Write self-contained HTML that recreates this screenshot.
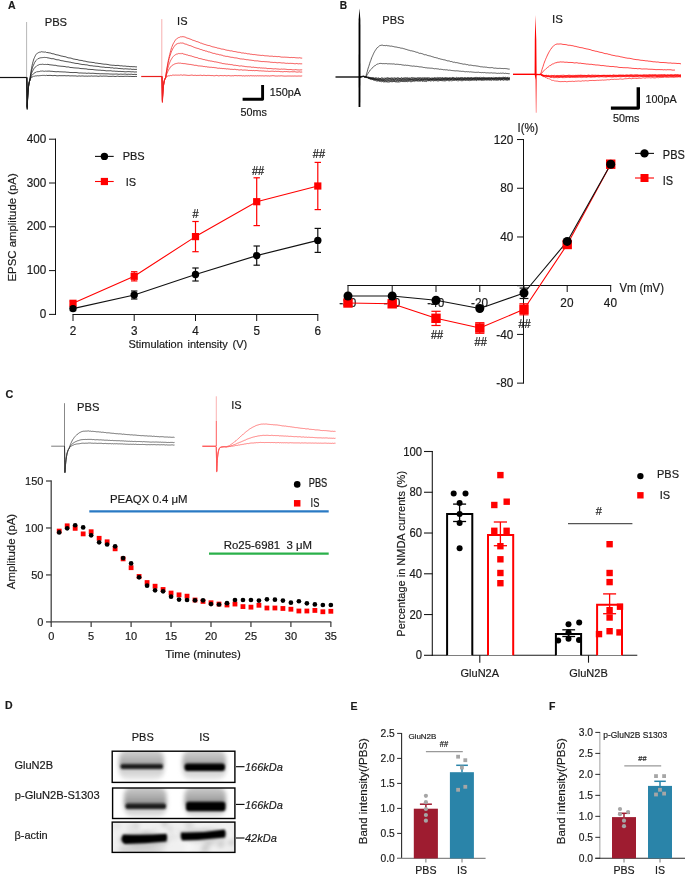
<!DOCTYPE html>
<html><head><meta charset="utf-8"><title>Figure</title>
<style>html,body{margin:0;padding:0;background:#fff;} svg{display:block;will-change:transform;} text{stroke:currentColor;stroke-width:0.18px;}</style></head>
<body><svg width="685" height="875" viewBox="0 0 685 875">
<rect width="685" height="875" fill="#fff"/>
<text x="8.10" y="9.00" font-size="10.5" text-anchor="start" font-weight="bold" fill="#1a1a1a" color="#1a1a1a" font-family='"Liberation Sans", sans-serif' >A</text>
<text x="44.70" y="26.40" font-size="11.2" text-anchor="start" font-weight="normal" fill="#1a1a1a" color="#1a1a1a" font-family='"Liberation Sans", sans-serif' >PBS</text>
<polyline points="0.0,77.5 26.8,77.5" stroke="#111" stroke-width="1.2" fill="none" stroke-linejoin="round" />
<line x1="26.60" y1="22.00" x2="26.60" y2="77.00" stroke="#999" stroke-width="0.7"/>
<polyline points="26.8,77.4 27.0,93.6 27.2,109.6 27.4,104.1 27.6,99.7 27.8,96.0 28.0,93.0 28.2,90.5 28.4,88.1 28.6,86.3 28.8,85.1 29.0,83.7 29.2,82.8 29.4,81.6 29.6,81.1 29.8,80.6 30.0,78.6 30.2,77.2 30.4,75.6 30.6,73.8 30.8,72.4 31.0,71.3 31.5,68.6 32.0,65.8 32.5,63.6 33.0,61.8 33.5,60.0 34.0,58.6 34.5,57.5 35.0,56.4 35.5,55.4 36.0,54.6 36.5,54.0 37.0,53.5 37.5,53.0 38.0,52.6 38.5,52.6 39.0,52.3 39.5,52.2 40.0,51.9 40.5,52.1 41.0,52.0 41.5,51.7 42.0,51.7 42.5,51.9 43.0,51.9 43.5,52.0 44.0,51.8 44.5,52.1 45.0,52.1 45.5,52.0 46.0,52.2 46.5,52.5 47.0,52.5 48.0,52.6 49.0,52.9 50.0,52.9 51.0,53.2 52.0,53.7 53.0,53.8 54.0,53.9 55.0,54.4 56.0,54.7 57.0,54.9 58.0,55.0 59.0,55.3 60.0,55.6 61.0,56.0 62.0,56.1 63.0,56.3 64.0,56.6 65.0,56.7 66.0,56.9 67.0,57.4 68.0,57.8 69.0,57.9 70.0,58.0 71.0,58.1 72.0,58.5 73.0,58.9 74.0,59.1 75.0,59.2 76.0,59.5 77.0,59.5 78.0,59.8 79.0,60.2 80.0,60.3 81.0,60.4 82.0,60.5 83.0,60.8 84.0,61.2 85.0,61.0 86.0,61.5 87.0,61.7 88.0,61.9 89.0,62.0 90.0,62.2 91.0,62.2 92.0,62.4 93.0,62.5 94.0,62.5 95.0,63.0 96.0,63.1 97.0,63.1 98.0,63.3 99.0,63.5 100.0,63.5 101.0,63.7 102.0,63.9 103.0,64.0 104.0,64.2 105.0,64.2 106.0,64.2 107.0,64.4 108.0,64.5 109.0,64.8 110.0,65.0 111.0,65.1 112.0,65.2 113.0,65.3 114.0,65.2 115.0,65.5 116.0,65.5 117.0,65.4 118.0,65.4 119.0,65.5 120.0,65.9 121.0,65.8 122.0,65.8 123.0,66.1 124.0,66.1 125.0,66.0 126.0,66.2 127.0,66.4 128.0,66.3 129.0,66.4 130.0,66.7 131.0,66.6 132.0,66.6 133.0,66.8 134.0,66.6 135.0,66.8 136.0,66.9 137.0,66.9" stroke="#1a1a1a" stroke-width="0.75" fill="none" stroke-linejoin="round" />
<polyline points="26.8,77.3 27.0,93.3 27.2,108.7 27.4,103.4 27.6,99.2 27.8,95.7 28.0,92.4 28.2,89.9 28.4,87.8 28.6,86.3 28.8,84.6 29.0,83.7 29.2,82.6 29.4,81.7 29.6,80.9 29.8,80.6 30.0,79.1 30.2,77.7 30.4,76.4 30.6,75.4 30.8,74.3 31.0,73.4 31.5,71.1 32.0,69.3 32.5,67.5 33.0,66.1 33.5,65.1 34.0,64.0 34.5,62.7 35.0,62.1 35.5,61.1 36.0,60.7 36.5,60.1 37.0,59.5 37.5,59.0 38.0,58.5 38.5,58.6 39.0,58.0 39.5,58.1 40.0,58.1 40.5,57.8 41.0,57.5 41.5,57.7 42.0,57.7 42.5,57.6 43.0,57.5 43.5,57.5 44.0,57.4 44.5,57.4 45.0,57.6 45.5,57.5 46.0,57.5 46.5,57.5 47.0,57.8 48.0,57.8 49.0,58.1 50.0,58.2 51.0,58.6 52.0,58.8 53.0,58.6 54.0,58.9 55.0,59.2 56.0,59.6 57.0,59.8 58.0,59.8 59.0,59.9 60.0,60.3 61.0,60.6 62.0,60.8 63.0,60.8 64.0,61.2 65.0,61.3 66.0,61.5 67.0,61.8 68.0,61.7 69.0,62.1 70.0,62.1 71.0,62.3 72.0,62.8 73.0,62.7 74.0,63.1 75.0,63.2 76.0,63.5 77.0,63.4 78.0,63.6 79.0,63.8 80.0,64.1 81.0,64.2 82.0,64.5 83.0,64.6 84.0,64.5 85.0,64.8 86.0,64.8 87.0,64.9 88.0,65.1 89.0,65.5 90.0,65.6 91.0,65.8 92.0,65.7 93.0,66.0 94.0,66.1 95.0,66.1 96.0,66.3 97.0,66.3 98.0,66.4 99.0,66.5 100.0,66.9 101.0,66.9 102.0,67.1 103.0,67.1 104.0,67.1 105.0,67.4 106.0,67.5 107.0,67.3 108.0,67.6 109.0,67.5 110.0,67.6 111.0,68.0 112.0,67.7 113.0,67.9 114.0,68.3 115.0,68.1 116.0,68.1 117.0,68.2 118.0,68.3 119.0,68.6 120.0,68.4 121.0,68.8 122.0,68.6 123.0,68.9 124.0,69.0 125.0,68.8 126.0,68.8 127.0,69.0 128.0,68.9 129.0,69.2 130.0,69.0 131.0,69.0 132.0,69.5 133.0,69.2 134.0,69.4 135.0,69.4 136.0,69.4 137.0,69.3" stroke="#1a1a1a" stroke-width="0.75" fill="none" stroke-linejoin="round" />
<polyline points="26.8,77.7 27.0,92.9 27.2,108.1 27.4,102.7 27.6,98.5 27.8,95.2 28.0,92.4 28.2,89.8 28.4,87.8 28.6,86.1 28.8,84.5 29.0,83.4 29.2,82.4 29.4,81.5 29.6,80.8 29.8,80.3 30.0,79.5 30.2,78.3 30.4,77.5 30.6,76.7 30.8,76.0 31.0,75.1 31.5,73.6 32.0,72.3 32.5,71.2 33.0,70.4 33.5,69.6 34.0,68.6 34.5,67.9 35.0,67.4 35.5,66.9 36.0,66.5 36.5,66.0 37.0,65.6 37.5,65.4 38.0,65.1 38.5,65.0 39.0,64.7 39.5,64.5 40.0,64.7 40.5,64.4 41.0,64.6 41.5,64.4 42.0,64.5 42.5,64.2 43.0,64.3 43.5,64.4 44.0,64.1 44.5,64.5 45.0,64.2 45.5,64.4 46.0,64.5 46.5,64.5 47.0,64.3 48.0,64.4 49.0,64.6 50.0,64.9 51.0,64.8 52.0,65.1 53.0,65.0 54.0,65.4 55.0,65.2 56.0,65.4 57.0,65.8 58.0,65.9 59.0,66.0 60.0,66.1 61.0,66.2 62.0,66.3 63.0,66.3 64.0,66.5 65.0,66.5 66.0,66.9 67.0,67.0 68.0,66.9 69.0,67.0 70.0,67.5 71.0,67.5 72.0,67.6 73.0,67.7 74.0,67.9 75.0,67.9 76.0,68.0 77.0,68.0 78.0,68.1 79.0,68.1 80.0,68.5 81.0,68.5 82.0,68.7 83.0,68.6 84.0,68.8 85.0,68.8 86.0,68.9 87.0,69.0 88.0,69.4 89.0,69.3 90.0,69.4 91.0,69.5 92.0,69.5 93.0,69.5 94.0,69.8 95.0,69.8 96.0,70.0 97.0,70.0 98.0,70.1 99.0,70.2 100.0,70.1 101.0,70.3 102.0,70.4 103.0,70.3 104.0,70.5 105.0,70.6 106.0,70.8 107.0,70.9 108.0,70.7 109.0,70.9 110.0,70.7 111.0,70.8 112.0,71.0 113.0,71.2 114.0,71.0 115.0,71.2 116.0,71.3 117.0,71.2 118.0,71.4 119.0,71.5 120.0,71.3 121.0,71.5 122.0,71.6 123.0,71.5 124.0,71.7 125.0,71.8 126.0,71.8 127.0,71.7 128.0,71.6 129.0,71.6 130.0,71.7 131.0,71.8 132.0,71.9 133.0,71.7 134.0,72.0 135.0,72.0 136.0,71.9 137.0,72.0" stroke="#1a1a1a" stroke-width="0.75" fill="none" stroke-linejoin="round" />
<polyline points="26.8,77.4 27.0,92.4 27.2,106.9 27.4,102.4 27.6,98.2 27.8,94.7 28.0,91.7 28.2,89.6 28.4,87.6 28.6,85.6 28.8,84.5 29.0,83.4 29.2,82.4 29.4,81.6 29.6,80.8 29.8,80.5 30.0,79.7 30.2,78.8 30.4,78.4 30.6,77.8 30.8,77.2 31.0,76.8 31.5,75.8 32.0,75.4 32.5,74.8 33.0,74.0 33.5,73.8 34.0,73.3 34.5,72.9 35.0,72.6 35.5,72.4 36.0,72.3 36.5,71.8 37.0,71.7 37.5,71.7 38.0,71.4 38.5,71.6 39.0,71.5 39.5,71.5 40.0,71.2 40.5,71.1 41.0,71.2 41.5,71.1 42.0,71.2 42.5,71.0 43.0,71.2 43.5,71.2 44.0,71.2 44.5,71.3 45.0,71.1 45.5,71.1 46.0,71.2 46.5,71.2 47.0,71.2 48.0,71.1 49.0,71.1 50.0,71.1 51.0,71.4 52.0,71.2 53.0,71.5 54.0,71.5 55.0,71.7 56.0,71.7 57.0,71.8 58.0,71.5 59.0,71.8 60.0,71.8 61.0,71.8 62.0,71.9 63.0,71.9 64.0,72.0 65.0,71.9 66.0,72.1 67.0,72.2 68.0,72.2 69.0,72.3 70.0,72.5 71.0,72.5 72.0,72.5 73.0,72.6 74.0,72.5 75.0,72.5 76.0,72.5 77.0,72.6 78.0,72.8 79.0,73.0 80.0,73.0 81.0,72.9 82.0,73.1 83.0,73.0 84.0,73.2 85.0,73.0 86.0,73.2 87.0,73.4 88.0,73.1 89.0,73.1 90.0,73.3 91.0,73.3 92.0,73.3 93.0,73.2 94.0,73.4 95.0,73.4 96.0,73.5 97.0,73.7 98.0,73.6 99.0,73.7 100.0,73.8 101.0,73.8 102.0,73.7 103.0,73.8 104.0,73.8 105.0,73.8 106.0,73.9 107.0,73.8 108.0,73.9 109.0,73.9 110.0,74.1 111.0,74.0 112.0,74.1 113.0,74.1 114.0,74.1 115.0,74.1 116.0,74.0 117.0,74.0 118.0,74.2 119.0,74.3 120.0,74.2 121.0,74.0 122.0,74.3 123.0,74.2 124.0,74.2 125.0,74.0 126.0,74.2 127.0,74.4 128.0,74.2 129.0,74.2 130.0,74.4 131.0,74.1 132.0,74.3 133.0,74.5 134.0,74.4 135.0,74.3 136.0,74.5 137.0,74.4" stroke="#1a1a1a" stroke-width="0.75" fill="none" stroke-linejoin="round" />
<polyline points="26.8,77.4 27.0,91.8 27.2,106.5 27.4,101.4 27.6,97.4 27.8,94.3 28.0,91.4 28.2,89.1 28.4,87.2 28.6,85.7 28.8,84.1 29.0,83.2 29.2,82.3 29.4,81.5 29.6,80.7 29.8,80.3 30.0,79.6 30.2,79.2 30.4,78.7 30.6,78.6 30.8,78.3 31.0,77.9 31.5,77.3 32.0,77.2 32.5,76.9 33.0,76.7 33.5,76.2 34.0,76.4 34.5,76.2 35.0,75.9 35.5,75.9 36.0,76.0 36.5,75.9 37.0,75.6 37.5,75.7 38.0,75.5 38.5,75.8 39.0,75.6 39.5,75.7 40.0,75.6 40.5,75.6 41.0,75.4 41.5,75.5 42.0,75.4 42.5,75.4 43.0,75.6 43.5,75.4 44.0,75.6 44.5,75.4 45.0,75.6 45.5,75.6 46.0,75.4 46.5,75.3 47.0,75.5 48.0,75.5 49.0,75.4 50.0,75.4 51.0,75.4 52.0,75.6 53.0,75.7 54.0,75.5 55.0,75.4 56.0,75.7 57.0,75.8 58.0,75.8 59.0,75.7 60.0,75.6 61.0,75.8 62.0,75.6 63.0,75.8 64.0,75.6 65.0,75.7 66.0,75.8 67.0,75.8 68.0,75.7 69.0,75.7 70.0,76.0 71.0,75.8 72.0,75.9 73.0,75.8 74.0,76.0 75.0,75.8 76.0,76.0 77.0,76.1 78.0,76.2 79.0,75.8 80.0,76.1 81.0,76.1 82.0,75.9 83.0,76.0 84.0,76.1 85.0,76.2 86.0,76.0 87.0,76.2 88.0,76.2 89.0,75.9 90.0,76.3 91.0,75.9 92.0,76.0 93.0,76.2 94.0,76.0 95.0,76.1 96.0,76.0 97.0,76.1 98.0,76.3 99.0,76.3 100.0,76.0 101.0,76.0 102.0,76.3 103.0,76.0 104.0,76.1 105.0,76.1 106.0,76.1 107.0,76.1 108.0,76.3 109.0,76.4 110.0,76.3 111.0,76.4 112.0,76.3 113.0,76.2 114.0,76.3 115.0,76.5 116.0,76.4 117.0,76.2 118.0,76.1 119.0,76.5 120.0,76.4 121.0,76.3 122.0,76.4 123.0,76.4 124.0,76.4 125.0,76.2 126.0,76.3 127.0,76.3 128.0,76.2 129.0,76.5 130.0,76.3 131.0,76.4 132.0,76.5 133.0,76.5 134.0,76.5 135.0,76.5 136.0,76.3 137.0,76.6" stroke="#1a1a1a" stroke-width="0.75" fill="none" stroke-linejoin="round" />
<text x="177.10" y="24.60" font-size="11" text-anchor="start" font-weight="normal" fill="#1a1a1a" color="#1a1a1a" font-family='"Liberation Sans", sans-serif' >IS</text>
<polyline points="141.2,76.5 162.0,76.5" stroke="#e8201e" stroke-width="1.2" fill="none" stroke-linejoin="round" />
<line x1="161.80" y1="19.10" x2="161.80" y2="76.00" stroke="#f7b0b0" stroke-width="1"/>
<polyline points="162.0,76.4 162.2,89.7 162.4,102.6 162.6,98.3 162.8,94.4 163.0,91.4 163.2,89.2 163.4,87.0 163.6,85.2 163.8,84.0 164.0,82.4 164.2,81.6 164.4,80.7 164.6,79.9 164.8,79.4 165.0,79.0 165.2,78.7 165.4,78.0 165.6,77.9 165.8,76.1 166.0,74.9 166.2,73.1 166.7,69.7 167.2,66.7 167.7,63.9 168.2,61.1 168.7,58.6 169.2,56.6 169.7,54.5 170.2,52.6 170.7,50.6 171.2,49.0 171.7,47.4 172.2,46.2 172.7,44.9 173.2,43.8 173.7,42.9 174.2,42.1 174.7,41.2 175.2,40.2 175.7,39.8 176.2,39.2 176.7,38.9 177.2,38.4 177.7,38.1 178.2,37.8 178.7,37.5 179.2,37.4 179.7,37.3 180.2,36.9 180.7,36.8 181.2,36.8 181.7,36.8 182.2,36.7 183.2,36.7 184.2,36.9 185.2,37.1 186.2,37.7 187.2,38.1 188.2,38.3 189.2,38.7 190.2,39.1 191.2,39.4 192.2,40.0 193.2,40.3 194.2,40.6 195.2,40.9 196.2,41.5 197.2,41.6 198.2,42.0 199.2,42.3 200.2,43.0 201.2,43.1 202.2,43.6 203.2,43.9 204.2,44.3 205.2,44.5 206.2,44.9 207.2,45.2 208.2,45.5 209.2,45.5 210.2,45.9 211.2,46.3 212.2,46.7 213.2,46.9 214.2,47.1 215.2,47.4 216.2,47.5 217.2,48.0 218.2,48.2 219.2,48.3 220.2,48.6 221.2,49.0 222.2,49.1 223.2,49.2 224.2,49.4 225.2,49.8 226.2,50.0 227.2,50.3 228.2,50.3 229.2,50.6 230.2,50.9 231.2,50.8 232.2,51.0 233.2,51.4 234.2,51.5 235.2,51.6 236.2,51.8 237.2,52.1 238.2,52.3 239.2,52.3 240.2,52.4 241.2,52.9 242.2,53.0 243.2,52.9 244.2,53.3 245.2,53.2 246.2,53.4 247.2,53.8 248.2,53.8 249.2,53.8 250.2,54.2 251.2,54.2 252.2,54.4 253.2,54.6 254.2,54.5 255.2,54.7 256.2,54.8 257.2,55.0 258.2,55.1 259.2,55.2 260.2,55.3 261.2,55.5 262.2,55.3 263.2,55.4 264.2,55.7 265.2,55.8 266.2,55.8 267.2,55.9 268.2,55.9 269.2,56.2 270.2,56.2 271.2,56.2 272.2,56.1 273.2,56.5 274.2,56.4 275.2,56.4 276.2,56.5 277.2,56.7 278.2,56.5 279.2,56.6 280.2,56.8 281.2,57.1 282.2,57.1 283.2,57.2 284.2,57.1 285.2,57.2 286.2,57.2 287.2,57.3 288.2,57.3 289.2,57.5 290.2,57.6 291.2,57.4 292.2,57.6 293.2,57.5 294.2,57.5 295.2,57.7 296.2,57.8 297.2,57.8 298.2,58.0 299.2,57.7 300.2,57.9 301.2,58.1 302.2,58.1" stroke="#f02020" stroke-width="0.75" fill="none" stroke-linejoin="round" />
<polyline points="162.0,76.5 162.2,89.0 162.4,101.7 162.6,97.7 162.8,94.2 163.0,91.2 163.2,88.8 163.4,86.8 163.6,85.1 163.8,83.5 164.0,82.4 164.2,81.5 164.4,80.5 164.6,80.0 164.8,79.3 165.0,78.8 165.2,78.5 165.4,78.0 165.6,77.8 165.8,76.4 166.0,74.8 166.2,73.5 166.7,70.4 167.2,67.8 167.7,65.1 168.2,62.7 168.7,60.8 169.2,58.5 169.7,56.8 170.2,55.2 170.7,53.7 171.2,52.2 171.7,51.1 172.2,49.9 172.7,48.9 173.2,48.0 173.7,47.3 174.2,46.5 174.7,45.7 175.2,45.1 175.7,45.0 176.2,44.3 176.7,43.9 177.2,43.7 177.7,43.6 178.2,43.6 178.7,43.2 179.2,43.3 179.7,43.2 180.2,42.9 180.7,43.1 181.2,43.2 181.7,43.0 182.2,43.0 183.2,43.1 184.2,43.7 185.2,44.1 186.2,44.1 187.2,44.7 188.2,45.0 189.2,45.5 190.2,45.6 191.2,46.0 192.2,46.4 193.2,46.9 194.2,47.3 195.2,47.7 196.2,48.0 197.2,48.3 198.2,48.5 199.2,48.9 200.2,49.4 201.2,49.5 202.2,49.9 203.2,50.4 204.2,50.4 205.2,51.0 206.2,51.0 207.2,51.4 208.2,51.9 209.2,51.9 210.2,52.3 211.2,52.6 212.2,53.0 213.2,53.4 214.2,53.3 215.2,53.7 216.2,54.1 217.2,54.2 218.2,54.3 219.2,54.8 220.2,54.8 221.2,55.1 222.2,55.2 223.2,55.8 224.2,55.9 225.2,56.2 226.2,56.4 227.2,56.3 228.2,56.6 229.2,56.8 230.2,57.1 231.2,57.3 232.2,57.3 233.2,57.5 234.2,57.8 235.2,57.9 236.2,57.9 237.2,58.1 238.2,58.4 239.2,58.6 240.2,58.9 241.2,58.9 242.2,59.1 243.2,59.0 244.2,59.3 245.2,59.4 246.2,59.7 247.2,59.7 248.2,59.8 249.2,60.0 250.2,60.1 251.2,60.2 252.2,60.4 253.2,60.4 254.2,60.8 255.2,60.8 256.2,60.9 257.2,60.8 258.2,61.0 259.2,61.2 260.2,61.3 261.2,61.5 262.2,61.6 263.2,61.5 264.2,61.6 265.2,61.7 266.2,61.7 267.2,61.8 268.2,61.9 269.2,61.9 270.2,62.2 271.2,62.3 272.2,62.3 273.2,62.5 274.2,62.4 275.2,62.4 276.2,62.6 277.2,62.8 278.2,62.7 279.2,62.6 280.2,62.7 281.2,62.9 282.2,63.0 283.2,62.9 284.2,63.0 285.2,63.2 286.2,63.4 287.2,63.2 288.2,63.4 289.2,63.4 290.2,63.3 291.2,63.4 292.2,63.4 293.2,63.5 294.2,63.7 295.2,63.8 296.2,63.5 297.2,63.6 298.2,63.9 299.2,63.7 300.2,63.8 301.2,63.8 302.2,63.8" stroke="#f02020" stroke-width="0.75" fill="none" stroke-linejoin="round" />
<polyline points="162.0,76.3 162.2,88.6 162.4,100.9 162.6,97.0 162.8,93.5 163.0,90.5 163.2,88.4 163.4,86.2 163.6,84.7 163.8,83.3 164.0,82.4 164.2,81.2 164.4,80.6 164.6,79.9 164.8,79.4 165.0,78.8 165.2,78.6 165.4,78.1 165.6,77.9 165.8,76.8 166.0,75.7 166.2,74.7 166.7,72.4 167.2,70.3 167.7,68.7 168.2,66.9 168.7,65.4 169.2,63.8 169.7,62.7 170.2,61.4 170.7,60.4 171.2,59.5 171.7,58.7 172.2,57.8 172.7,57.2 173.2,56.6 173.7,56.1 174.2,55.6 174.7,55.1 175.2,54.8 175.7,54.6 176.2,54.3 176.7,54.1 177.2,54.1 177.7,53.9 178.2,53.8 178.7,53.4 179.2,53.5 179.7,53.6 180.2,53.4 180.7,53.7 181.2,53.4 181.7,53.7 182.2,53.4 183.2,53.9 184.2,54.2 185.2,54.3 186.2,54.8 187.2,54.8 188.2,55.4 189.2,55.5 190.2,55.8 191.2,55.9 192.2,56.4 193.2,56.6 194.2,57.0 195.2,57.3 196.2,57.5 197.2,57.6 198.2,58.2 199.2,58.5 200.2,58.6 201.2,58.8 202.2,59.1 203.2,59.5 204.2,59.5 205.2,59.9 206.2,60.1 207.2,60.2 208.2,60.7 209.2,60.7 210.2,61.0 211.2,61.0 212.2,61.3 213.2,61.4 214.2,61.8 215.2,61.8 216.2,62.0 217.2,62.2 218.2,62.4 219.2,62.7 220.2,62.9 221.2,63.0 222.2,63.5 223.2,63.6 224.2,63.7 225.2,63.9 226.2,64.1 227.2,64.0 228.2,64.4 229.2,64.3 230.2,64.6 231.2,64.6 232.2,64.7 233.2,65.1 234.2,65.3 235.2,65.2 236.2,65.5 237.2,65.5 238.2,65.7 239.2,66.0 240.2,66.0 241.2,65.8 242.2,66.1 243.2,66.2 244.2,66.3 245.2,66.6 246.2,66.6 247.2,66.8 248.2,66.8 249.2,66.9 250.2,66.8 251.2,67.2 252.2,67.3 253.2,67.1 254.2,67.4 255.2,67.4 256.2,67.5 257.2,67.7 258.2,67.9 259.2,67.6 260.2,68.0 261.2,67.9 262.2,68.1 263.2,68.0 264.2,68.2 265.2,68.1 266.2,68.2 267.2,68.6 268.2,68.5 269.2,68.6 270.2,68.5 271.2,68.6 272.2,68.7 273.2,68.9 274.2,68.9 275.2,68.7 276.2,68.9 277.2,69.0 278.2,69.0 279.2,69.2 280.2,69.3 281.2,69.0 282.2,69.2 283.2,69.1 284.2,69.1 285.2,69.2 286.2,69.3 287.2,69.5 288.2,69.6 289.2,69.6 290.2,69.5 291.2,69.5 292.2,69.8 293.2,69.8 294.2,69.9 295.2,69.6 296.2,69.7 297.2,69.9 298.2,69.9 299.2,70.0 300.2,69.9 301.2,69.9 302.2,69.8" stroke="#f02020" stroke-width="0.75" fill="none" stroke-linejoin="round" />
<polyline points="162.0,76.6 162.2,88.5 162.4,100.3 162.6,96.2 162.8,92.8 163.0,90.1 163.2,88.0 163.4,86.2 163.6,84.6 163.8,83.0 164.0,82.0 164.2,81.1 164.4,80.3 164.6,79.8 164.8,79.3 165.0,78.8 165.2,78.4 165.4,78.1 165.6,77.8 165.8,77.0 166.0,76.2 166.2,75.8 166.7,74.0 167.2,72.9 167.7,71.7 168.2,70.7 168.7,69.8 169.2,68.9 169.7,68.4 170.2,67.4 170.7,66.7 171.2,66.5 171.7,65.8 172.2,65.3 172.7,65.0 173.2,64.7 173.7,64.6 174.2,64.3 174.7,63.9 175.2,63.8 175.7,63.6 176.2,63.5 176.7,63.4 177.2,63.2 177.7,63.3 178.2,63.2 178.7,63.1 179.2,63.3 179.7,63.1 180.2,63.1 180.7,63.2 181.2,63.4 181.7,63.4 182.2,63.4 183.2,63.6 184.2,63.6 185.2,63.7 186.2,63.9 187.2,64.1 188.2,64.2 189.2,64.4 190.2,64.4 191.2,64.6 192.2,64.8 193.2,64.9 194.2,65.3 195.2,65.3 196.2,65.3 197.2,65.6 198.2,65.9 199.2,65.9 200.2,66.0 201.2,66.1 202.2,66.1 203.2,66.5 204.2,66.4 205.2,66.8 206.2,66.6 207.2,67.0 208.2,67.0 209.2,67.2 210.2,67.3 211.2,67.2 212.2,67.5 213.2,67.4 214.2,67.6 215.2,67.7 216.2,67.8 217.2,68.1 218.2,68.3 219.2,68.1 220.2,68.4 221.2,68.3 222.2,68.6 223.2,68.5 224.2,68.7 225.2,68.6 226.2,69.0 227.2,68.8 228.2,69.0 229.2,69.0 230.2,69.3 231.2,69.3 232.2,69.3 233.2,69.5 234.2,69.3 235.2,69.3 236.2,69.7 237.2,69.6 238.2,69.8 239.2,70.0 240.2,69.9 241.2,69.7 242.2,70.1 243.2,70.1 244.2,70.0 245.2,70.0 246.2,70.2 247.2,70.1 248.2,70.5 249.2,70.4 250.2,70.5 251.2,70.4 252.2,70.7 253.2,70.4 254.2,70.7 255.2,70.6 256.2,70.5 257.2,70.6 258.2,70.7 259.2,70.9 260.2,70.8 261.2,70.9 262.2,71.0 263.2,70.9 264.2,71.1 265.2,71.1 266.2,71.3 267.2,71.1 268.2,71.3 269.2,71.4 270.2,71.3 271.2,71.2 272.2,71.2 273.2,71.2 274.2,71.5 275.2,71.2 276.2,71.4 277.2,71.4 278.2,71.3 279.2,71.4 280.2,71.7 281.2,71.6 282.2,71.8 283.2,71.8 284.2,71.5 285.2,71.7 286.2,71.5 287.2,71.7 288.2,71.7 289.2,71.9 290.2,71.8 291.2,71.7 292.2,71.8 293.2,71.8 294.2,71.7 295.2,71.8 296.2,72.0 297.2,72.1 298.2,72.0 299.2,71.8 300.2,72.1 301.2,72.0 302.2,72.1" stroke="#f02020" stroke-width="0.75" fill="none" stroke-linejoin="round" />
<polyline points="162.0,76.4 162.2,87.8 162.4,99.5 162.6,95.4 162.8,92.2 163.0,89.7 163.2,87.7 163.4,85.8 163.6,84.1 163.8,83.1 164.0,81.9 164.2,81.1 164.4,80.3 164.6,79.5 164.8,79.2 165.0,78.6 165.2,78.5 165.4,78.0 165.6,77.9 165.8,77.5 166.0,77.2 166.2,77.1 166.7,76.6 167.2,76.2 167.7,76.2 168.2,76.1 168.7,75.7 169.2,75.9 169.7,75.7 170.2,75.6 170.7,75.4 171.2,75.6 171.7,75.5 172.2,75.3 172.7,75.1 173.2,75.3 173.7,75.0 174.2,75.3 174.7,75.1 175.2,75.1 175.7,75.1 176.2,75.2 176.7,75.1 177.2,75.1 177.7,75.2 178.2,75.2 178.7,75.1 179.2,75.1 179.7,75.2 180.2,74.9 180.7,75.0 181.2,75.0 181.7,75.0 182.2,75.3 183.2,75.0 184.2,75.0 185.2,75.1 186.2,75.2 187.2,75.3 188.2,75.4 189.2,75.4 190.2,75.3 191.2,75.1 192.2,75.1 193.2,75.4 194.2,75.4 195.2,75.2 196.2,75.5 197.2,75.4 198.2,75.4 199.2,75.4 200.2,75.2 201.2,75.3 202.2,75.6 203.2,75.3 204.2,75.3 205.2,75.4 206.2,75.6 207.2,75.4 208.2,75.4 209.2,75.4 210.2,75.5 211.2,75.6 212.2,75.5 213.2,75.7 214.2,75.8 215.2,75.7 216.2,75.4 217.2,75.5 218.2,75.8 219.2,75.8 220.2,75.5 221.2,75.6 222.2,75.6 223.2,75.8 224.2,75.5 225.2,75.6 226.2,75.8 227.2,75.8 228.2,75.5 229.2,75.7 230.2,75.8 231.2,75.9 232.2,75.7 233.2,75.9 234.2,75.6 235.2,75.6 236.2,75.6 237.2,75.8 238.2,75.6 239.2,75.7 240.2,75.7 241.2,75.6 242.2,76.0 243.2,75.7 244.2,76.0 245.2,75.9 246.2,75.7 247.2,76.0 248.2,75.6 249.2,76.0 250.2,75.7 251.2,75.7 252.2,75.9 253.2,75.7 254.2,76.0 255.2,75.7 256.2,76.0 257.2,75.7 258.2,75.9 259.2,75.8 260.2,75.8 261.2,75.9 262.2,75.8 263.2,75.9 264.2,76.0 265.2,75.8 266.2,75.8 267.2,76.0 268.2,75.8 269.2,76.1 270.2,75.9 271.2,75.9 272.2,75.7 273.2,75.7 274.2,75.8 275.2,76.0 276.2,76.0 277.2,76.1 278.2,75.9 279.2,76.0 280.2,75.9 281.2,75.8 282.2,75.9 283.2,76.0 284.2,76.1 285.2,76.1 286.2,76.1 287.2,76.0 288.2,76.0 289.2,76.0 290.2,76.0 291.2,76.1 292.2,76.0 293.2,76.1 294.2,76.0 295.2,76.0 296.2,76.1 297.2,76.1 298.2,76.0 299.2,76.0 300.2,76.1 301.2,76.0 302.2,75.9" stroke="#f02020" stroke-width="0.75" fill="none" stroke-linejoin="round" />
<polyline points="242.6,99.3 262.6,99.3 262.6,84.9" stroke="#000" stroke-width="2.9" fill="none" stroke-linejoin="round" stroke-linejoin="miter"/>
<text transform="translate(269.70,95.90) scale(1,1.05)" font-size="10.8" text-anchor="start" font-weight="normal" fill="#1a1a1a" color="#1a1a1a" font-family='"Liberation Sans", sans-serif'>150pA</text>
<text transform="translate(240.40,116.30) scale(1,1.05)" font-size="10.8" text-anchor="start" font-weight="normal" fill="#1a1a1a" color="#1a1a1a" font-family='"Liberation Sans", sans-serif'>50ms</text>
<text x="339.80" y="9.00" font-size="10.2" text-anchor="start" font-weight="bold" fill="#1a1a1a" color="#1a1a1a" font-family='"Liberation Sans", sans-serif' >B</text>
<text x="382.30" y="23.80" font-size="11.1" text-anchor="start" font-weight="normal" fill="#1a1a1a" color="#1a1a1a" font-family='"Liberation Sans", sans-serif' >PBS</text>
<polyline points="335.5,77.0 359.0,77.0" stroke="#111" stroke-width="1.4" fill="none" stroke-linejoin="round" />
<polyline points="359.5,76.9 359.7,77.0 359.9,76.8 360.1,76.9 360.3,77.1 360.5,76.8 360.7,76.8 360.9,76.9 361.1,76.9 361.3,76.8 361.5,76.7 361.7,76.6 361.9,76.5 362.1,76.6 362.3,76.4 362.5,76.6 362.7,76.2 362.9,76.5 363.1,76.5 363.3,76.3 363.5,76.2 363.7,76.4 364.2,76.6 364.7,76.8 365.2,77.0 365.7,76.8 366.2,75.2 366.7,73.3 367.2,71.9 367.7,69.9 368.2,68.0 368.7,66.6 369.2,65.1 369.7,63.4 370.2,61.8 370.7,60.7 371.2,59.2 371.7,57.7 372.2,56.7 372.7,55.5 373.2,54.4 373.7,53.3 374.2,52.3 374.7,51.4 375.2,50.6 375.7,49.8 376.2,49.2 376.7,48.3 377.2,47.7 377.7,47.5 378.2,46.9 378.7,46.5 379.2,46.1 379.7,45.7 380.7,45.4 381.7,45.2 382.7,45.2 383.7,45.6 384.7,45.5 385.7,45.7 386.7,45.4 387.7,45.8 388.7,45.8 389.7,46.0 390.7,46.2 391.7,46.1 392.7,46.4 393.7,46.6 394.7,46.9 395.7,47.0 396.7,47.1 397.7,47.4 398.7,47.6 399.7,47.7 400.7,48.1 401.7,48.2 402.7,48.3 403.7,48.7 404.7,48.9 405.7,49.3 406.7,49.5 407.7,49.9 408.7,50.2 409.7,50.4 410.7,50.8 411.7,50.8 412.7,51.1 413.7,51.3 414.7,51.6 415.7,52.0 416.7,52.3 417.7,52.4 418.7,53.0 419.7,53.4 420.7,53.3 421.7,53.6 422.7,53.9 423.7,54.4 424.7,54.8 425.7,54.7 426.7,55.0 427.7,55.5 428.7,55.7 429.7,55.9 430.7,56.1 431.7,56.5 432.7,56.8 433.7,57.1 434.7,57.5 435.7,57.6 436.7,57.9 437.7,58.1 438.7,58.7 439.7,58.7 440.7,59.1 441.7,59.3 442.7,59.5 443.7,59.8 444.7,59.9 445.7,60.2 446.7,60.6 447.7,60.9 448.7,60.9 449.7,61.1 450.7,61.6 451.7,61.5 452.7,62.0 453.7,62.3 454.7,62.2 455.7,62.7 456.7,62.6 457.7,62.8 458.7,63.1 459.7,63.3 460.7,63.6 461.7,63.7 462.7,64.0 463.7,64.2 464.7,64.1 465.7,64.3 466.7,64.7 467.7,64.6 468.7,65.1 469.7,65.2 470.7,65.1 471.7,65.3 472.7,65.5 473.7,65.7 474.7,65.7 475.7,65.8 476.7,66.0 477.7,66.1 478.7,66.3 479.7,66.5 480.7,66.8 481.7,66.8 482.7,66.9 483.7,67.1 484.7,67.0 485.7,67.2 486.7,67.2 487.7,67.5 488.7,67.6 489.7,67.7 490.7,67.7 491.7,67.6 492.7,67.7 493.7,68.1 494.7,68.2 495.7,68.1 496.7,68.3 497.7,68.4 498.7,68.4 499.7,68.3 500.7,68.4 501.7,68.5 502.7,68.5 503.7,68.6 504.7,68.5 505.7,68.6 506.7,68.7 507.7,68.9 508.7,69.1 509.7,69.1" stroke="#1a1a1a" stroke-width="0.7" fill="none" stroke-linejoin="round" />
<polyline points="359.5,76.8 359.7,76.9 359.9,77.0 360.1,76.8 360.3,76.7 360.5,76.9 360.7,76.7 360.9,76.9 361.1,76.6 361.3,76.9 361.5,76.6 361.7,76.6 361.9,76.6 362.1,76.7 362.3,76.6 362.5,76.6 362.7,76.5 362.9,76.2 363.1,76.3 363.3,76.4 363.5,76.6 363.7,76.6 364.2,76.5 364.7,76.7 365.2,77.0 365.7,76.9 366.2,76.4 366.7,75.6 367.2,74.7 367.7,73.9 368.2,73.1 368.7,72.3 369.2,71.5 369.7,71.1 370.2,70.1 370.7,69.6 371.2,69.2 371.7,68.7 372.2,67.9 372.7,67.4 373.2,67.2 373.7,66.5 374.2,66.2 374.7,65.8 375.2,65.3 375.7,65.3 376.2,64.9 376.7,64.4 377.2,64.2 377.7,64.0 378.2,63.9 378.7,64.0 379.2,63.5 379.7,63.5 380.7,63.4 381.7,63.5 382.7,63.7 383.7,63.6 384.7,63.7 385.7,63.6 386.7,63.6 387.7,63.9 388.7,63.8 389.7,63.8 390.7,63.9 391.7,63.9 392.7,64.0 393.7,63.9 394.7,64.1 395.7,64.4 396.7,64.2 397.7,64.3 398.7,64.4 399.7,64.6 400.7,64.5 401.7,64.8 402.7,65.0 403.7,65.1 404.7,65.3 405.7,65.1 406.7,65.4 407.7,65.3 408.7,65.5 409.7,65.7 410.7,65.9 411.7,66.0 412.7,66.2 413.7,66.0 414.7,66.2 415.7,66.4 416.7,66.3 417.7,66.5 418.7,66.7 419.7,66.9 420.7,66.9 421.7,67.0 422.7,67.2 423.7,67.5 424.7,67.5 425.7,67.8 426.7,67.8 427.7,68.0 428.7,68.0 429.7,68.1 430.7,68.2 431.7,68.2 432.7,68.3 433.7,68.6 434.7,68.8 435.7,68.6 436.7,68.8 437.7,68.9 438.7,69.0 439.7,69.4 440.7,69.2 441.7,69.4 442.7,69.5 443.7,69.8 444.7,69.7 445.7,69.9 446.7,69.8 447.7,70.0 448.7,70.3 449.7,70.1 450.7,70.3 451.7,70.5 452.7,70.6 453.7,70.7 454.7,70.8 455.7,70.9 456.7,70.8 457.7,70.9 458.7,71.0 459.7,71.2 460.7,71.2 461.7,71.4 462.7,71.3 463.7,71.4 464.7,71.7 465.7,71.8 466.7,71.6 467.7,71.8 468.7,71.7 469.7,72.0 470.7,71.8 471.7,72.0 472.7,72.1 473.7,72.2 474.7,72.3 475.7,72.4 476.7,72.3 477.7,72.3 478.7,72.2 479.7,72.5 480.7,72.5 481.7,72.7 482.7,72.5 483.7,72.7 484.7,72.5 485.7,72.8 486.7,72.9 487.7,72.8 488.7,72.9 489.7,73.0 490.7,72.9 491.7,72.8 492.7,73.1 493.7,73.0 494.7,73.0 495.7,73.1 496.7,73.3 497.7,73.4 498.7,73.2 499.7,73.4 500.7,73.1 501.7,73.3 502.7,73.1 503.7,73.2 504.7,73.5 505.7,73.2 506.7,73.5 507.7,73.5 508.7,73.7 509.7,73.7" stroke="#1a1a1a" stroke-width="0.7" fill="none" stroke-linejoin="round" />
<polyline points="359.5,76.8 359.7,77.0 359.9,76.8 360.1,77.0 360.3,77.0 360.5,76.5 360.7,76.5 360.9,77.1 361.1,76.6 361.3,76.5 361.5,77.1 361.7,76.6 361.9,76.8 362.1,76.5 362.3,76.6 362.5,76.2 362.7,76.5 362.9,76.7 363.1,76.4 363.3,76.6 363.5,76.6 363.7,76.1 364.2,76.8 364.7,76.8 365.2,76.7 365.7,76.5 366.2,77.3 366.7,77.1 367.2,77.4 367.7,77.6 368.2,77.6 368.7,77.9 369.2,77.5 369.7,77.9 370.2,77.7 370.7,78.2 371.2,78.2 371.7,77.7 372.2,77.7 372.7,77.9 373.2,78.5 373.7,78.1 374.2,78.3 374.7,78.1 375.2,78.3 375.7,78.3 376.2,78.3 376.7,78.5 377.2,78.5 377.7,78.8 378.2,78.6 378.7,78.8 379.2,78.8 379.7,78.9 380.7,78.6 381.7,78.2 382.7,78.8 383.7,78.9 384.7,78.8 385.7,78.5 386.7,78.6 387.7,78.2 388.7,78.7 389.7,78.5 390.7,78.3 391.7,78.1 392.7,78.7 393.7,78.8 394.7,78.1 395.7,78.7 396.7,78.3 397.7,78.1 398.7,78.2 399.7,78.6 400.7,78.7 401.7,78.0 402.7,78.5 403.7,78.0 404.7,78.5 405.7,78.2 406.7,78.7 407.7,78.7 408.7,78.3 409.7,78.7 410.7,78.2 411.7,78.0 412.7,78.4 413.7,77.9 414.7,78.1 415.7,78.2 416.7,78.4 417.7,78.0 418.7,77.9 419.7,78.6 420.7,78.1 421.7,78.6 422.7,78.6 423.7,78.2 424.7,78.2 425.7,78.3 426.7,78.4 427.7,78.3 428.7,78.3 429.7,78.3 430.7,78.6 431.7,78.2 432.7,78.2 433.7,78.4 434.7,78.0 435.7,78.0 436.7,78.6 437.7,78.2 438.7,78.2 439.7,77.8 440.7,78.1 441.7,78.2 442.7,77.8 443.7,78.3 444.7,78.3 445.7,77.8 446.7,78.3 447.7,78.1 448.7,78.3 449.7,78.0 450.7,78.3 451.7,78.3 452.7,77.7 453.7,77.8 454.7,78.3 455.7,78.5 456.7,77.9 457.7,78.1 458.7,78.2 459.7,78.0 460.7,78.0 461.7,78.0 462.7,78.0 463.7,78.2 464.7,77.9 465.7,78.0 466.7,78.3 467.7,77.7 468.7,78.1 469.7,78.3 470.7,77.9 471.7,77.9 472.7,78.3 473.7,77.9 474.7,77.8 475.7,78.0 476.7,78.2 477.7,77.7 478.7,77.9 479.7,77.9 480.7,78.3 481.7,78.0 482.7,78.3 483.7,77.8 484.7,77.9 485.7,78.2 486.7,78.3 487.7,78.0 488.7,77.8 489.7,77.7 490.7,78.1 491.7,77.8 492.7,78.3 493.7,78.3 494.7,77.8 495.7,77.8 496.7,78.3 497.7,78.1 498.7,78.3 499.7,77.9 500.7,77.7 501.7,77.8 502.7,78.2 503.7,77.8 504.7,77.9 505.7,77.9 506.7,77.9 507.7,77.9 508.7,78.3 509.7,77.7" stroke="#1a1a1a" stroke-width="0.6" fill="none" stroke-linejoin="round" />
<polyline points="359.5,76.6 359.7,77.3 359.9,77.2 360.1,77.3 360.3,76.9 360.5,77.2 360.7,77.2 360.9,76.6 361.1,77.0 361.3,77.0 361.5,76.8 361.7,76.6 361.9,76.4 362.1,76.4 362.3,76.3 362.5,76.1 362.7,76.5 362.9,76.2 363.1,76.6 363.3,76.0 363.5,76.8 363.7,76.6 364.2,76.9 364.7,77.0 365.2,77.1 365.7,77.0 366.2,76.6 366.7,77.4 367.2,77.1 367.7,77.3 368.2,77.7 368.7,77.8 369.2,77.8 369.7,78.3 370.2,78.2 370.7,78.1 371.2,78.1 371.7,78.7 372.2,78.5 372.7,78.8 373.2,78.6 373.7,78.5 374.2,78.9 374.7,79.2 375.2,78.7 375.7,79.3 376.2,79.4 376.7,79.4 377.2,79.5 377.7,78.9 378.2,79.4 378.7,79.6 379.2,79.0 379.7,79.2 380.7,79.3 381.7,79.5 382.7,79.4 383.7,79.5 384.7,79.7 385.7,79.1 386.7,79.1 387.7,79.2 388.7,79.1 389.7,79.1 390.7,79.8 391.7,79.7 392.7,79.1 393.7,79.4 394.7,79.2 395.7,79.2 396.7,79.2 397.7,79.5 398.7,79.4 399.7,79.2 400.7,79.1 401.7,79.2 402.7,79.0 403.7,79.3 404.7,79.4 405.7,79.2 406.7,78.9 407.7,79.0 408.7,79.1 409.7,79.3 410.7,79.4 411.7,79.1 412.7,79.4 413.7,79.2 414.7,79.1 415.7,79.0 416.7,79.1 417.7,79.3 418.7,79.0 419.7,79.2 420.7,79.0 421.7,78.9 422.7,79.1 423.7,79.2 424.7,78.7 425.7,79.0 426.7,78.9 427.7,79.3 428.7,79.3 429.7,78.9 430.7,79.3 431.7,79.2 432.7,78.8 433.7,78.9 434.7,78.6 435.7,79.2 436.7,79.0 437.7,79.2 438.7,79.1 439.7,79.0 440.7,79.1 441.7,78.9 442.7,78.5 443.7,78.9 444.7,78.4 445.7,78.5 446.7,79.0 447.7,78.4 448.7,78.5 449.7,78.5 450.7,79.1 451.7,78.5 452.7,78.4 453.7,79.0 454.7,78.5 455.7,79.0 456.7,78.9 457.7,79.0 458.7,79.1 459.7,78.8 460.7,79.0 461.7,78.3 462.7,78.9 463.7,78.7 464.7,78.9 465.7,78.4 466.7,78.9 467.7,79.0 468.7,78.3 469.7,78.5 470.7,78.7 471.7,78.9 472.7,78.4 473.7,78.4 474.7,78.4 475.7,78.7 476.7,78.8 477.7,78.5 478.7,78.5 479.7,78.5 480.7,78.5 481.7,78.5 482.7,78.3 483.7,78.6 484.7,79.0 485.7,78.5 486.7,78.8 487.7,78.3 488.7,78.7 489.7,78.8 490.7,78.7 491.7,78.6 492.7,78.5 493.7,78.7 494.7,78.9 495.7,78.3 496.7,78.2 497.7,78.7 498.7,78.9 499.7,78.5 500.7,78.5 501.7,78.7 502.7,78.3 503.7,78.3 504.7,78.3 505.7,78.6 506.7,78.4 507.7,78.3 508.7,78.7 509.7,78.9" stroke="#1a1a1a" stroke-width="0.6" fill="none" stroke-linejoin="round" />
<polyline points="359.5,76.8 359.7,77.1 359.9,76.9 360.1,77.2 360.3,77.0 360.5,76.7 360.7,76.6 360.9,76.4 361.1,76.7 361.3,76.6 361.5,76.4 361.7,76.5 361.9,76.4 362.1,76.7 362.3,76.2 362.5,76.8 362.7,76.4 362.9,76.5 363.1,76.4 363.3,76.7 363.5,76.7 363.7,76.5 364.2,76.6 364.7,76.9 365.2,77.1 365.7,76.8 366.2,77.2 366.7,77.6 367.2,77.4 367.7,77.4 368.2,77.6 368.7,78.1 369.2,78.2 369.7,78.6 370.2,78.7 370.7,78.3 371.2,78.4 371.7,78.6 372.2,78.7 372.7,79.2 373.2,79.4 373.7,79.6 374.2,79.2 374.7,79.8 375.2,79.4 375.7,79.6 376.2,79.9 376.7,79.5 377.2,79.6 377.7,80.3 378.2,79.9 378.7,80.0 379.2,80.2 379.7,80.4 380.7,79.9 381.7,80.3 382.7,80.4 383.7,80.5 384.7,80.3 385.7,80.6 386.7,80.8 387.7,80.4 388.7,80.5 389.7,80.1 390.7,80.2 391.7,80.5 392.7,80.1 393.7,80.7 394.7,80.7 395.7,80.0 396.7,80.7 397.7,80.2 398.7,80.5 399.7,80.5 400.7,80.1 401.7,80.4 402.7,80.3 403.7,80.4 404.7,80.0 405.7,80.4 406.7,80.5 407.7,80.3 408.7,80.1 409.7,79.8 410.7,80.1 411.7,79.9 412.7,80.2 413.7,80.1 414.7,80.0 415.7,79.7 416.7,80.1 417.7,80.0 418.7,79.7 419.7,80.2 420.7,80.0 421.7,79.6 422.7,80.2 423.7,79.5 424.7,79.7 425.7,80.0 426.7,79.9 427.7,79.8 428.7,79.9 429.7,79.7 430.7,79.6 431.7,79.4 432.7,79.3 433.7,79.8 434.7,79.9 435.7,79.7 436.7,79.8 437.7,79.5 438.7,79.4 439.7,79.5 440.7,79.9 441.7,79.2 442.7,79.5 443.7,79.3 444.7,79.7 445.7,79.4 446.7,79.4 447.7,79.4 448.7,79.5 449.7,79.7 450.7,79.3 451.7,79.7 452.7,79.1 453.7,79.2 454.7,79.1 455.7,79.1 456.7,79.6 457.7,79.5 458.7,79.1 459.7,79.1 460.7,79.3 461.7,79.5 462.7,79.6 463.7,79.5 464.7,79.4 465.7,79.0 466.7,79.2 467.7,79.0 468.7,79.3 469.7,79.3 470.7,79.0 471.7,79.0 472.7,79.4 473.7,78.8 474.7,79.5 475.7,79.5 476.7,79.6 477.7,79.1 478.7,79.2 479.7,79.2 480.7,79.3 481.7,79.5 482.7,79.3 483.7,79.0 484.7,79.4 485.7,79.1 486.7,79.2 487.7,79.3 488.7,78.7 489.7,79.3 490.7,79.2 491.7,79.1 492.7,79.1 493.7,79.0 494.7,78.8 495.7,79.1 496.7,78.7 497.7,79.1 498.7,79.2 499.7,79.0 500.7,79.1 501.7,79.4 502.7,79.3 503.7,78.7 504.7,79.3 505.7,79.1 506.7,78.7 507.7,78.9 508.7,78.8 509.7,78.7" stroke="#1a1a1a" stroke-width="0.6" fill="none" stroke-linejoin="round" />
<polyline points="359.5,77.0 359.7,77.3 359.9,76.8 360.1,77.2 360.3,77.1 360.5,76.6 360.7,77.1 360.9,76.9 361.1,77.1 361.3,76.9 361.5,76.8 361.7,76.5 361.9,76.8 362.1,76.9 362.3,76.8 362.5,76.4 362.7,76.6 362.9,76.4 363.1,76.1 363.3,76.0 363.5,76.1 363.7,76.2 364.2,76.3 364.7,76.7 365.2,77.0 365.7,76.9 366.2,77.0 366.7,77.4 367.2,77.4 367.7,77.7 368.2,78.1 368.7,78.1 369.2,78.1 369.7,78.8 370.2,78.9 370.7,78.8 371.2,78.9 371.7,79.2 372.2,79.4 372.7,79.3 373.2,79.3 373.7,79.6 374.2,80.2 374.7,79.8 375.2,80.2 375.7,80.1 376.2,80.2 376.7,80.3 377.2,80.6 377.7,80.5 378.2,80.4 378.7,80.6 379.2,80.7 379.7,81.0 380.7,80.8 381.7,80.9 382.7,81.3 383.7,81.4 384.7,81.6 385.7,81.1 386.7,81.4 387.7,81.4 388.7,81.1 389.7,81.8 390.7,81.2 391.7,81.1 392.7,81.4 393.7,81.1 394.7,81.4 395.7,81.2 396.7,81.0 397.7,80.9 398.7,81.4 399.7,81.0 400.7,81.4 401.7,81.1 402.7,81.5 403.7,80.9 404.7,80.9 405.7,80.9 406.7,81.3 407.7,81.1 408.7,80.9 409.7,80.6 410.7,81.1 411.7,81.3 412.7,81.0 413.7,80.5 414.7,80.5 415.7,80.5 416.7,80.5 417.7,80.4 418.7,80.4 419.7,80.8 420.7,81.0 421.7,80.4 422.7,81.0 423.7,80.6 424.7,80.8 425.7,80.9 426.7,80.9 427.7,80.2 428.7,80.4 429.7,80.6 430.7,80.8 431.7,80.1 432.7,80.3 433.7,80.7 434.7,80.1 435.7,80.3 436.7,80.2 437.7,80.5 438.7,80.7 439.7,80.0 440.7,80.5 441.7,80.4 442.7,80.5 443.7,80.3 444.7,80.5 445.7,80.1 446.7,80.1 447.7,79.9 448.7,80.4 449.7,80.1 450.7,79.9 451.7,79.8 452.7,80.2 453.7,80.1 454.7,80.2 455.7,79.9 456.7,80.0 457.7,79.7 458.7,80.1 459.7,79.6 460.7,79.9 461.7,80.1 462.7,80.1 463.7,79.6 464.7,79.7 465.7,80.2 466.7,80.0 467.7,80.2 468.7,80.1 469.7,79.8 470.7,80.1 471.7,80.0 472.7,79.7 473.7,79.7 474.7,79.4 475.7,79.7 476.7,80.1 477.7,79.4 478.7,79.8 479.7,79.4 480.7,79.4 481.7,79.8 482.7,79.5 483.7,79.3 484.7,79.4 485.7,79.8 486.7,79.7 487.7,79.3 488.7,79.4 489.7,80.0 490.7,79.4 491.7,79.7 492.7,79.5 493.7,79.8 494.7,79.7 495.7,79.8 496.7,79.6 497.7,79.3 498.7,79.3 499.7,79.2 500.7,79.8 501.7,79.2 502.7,79.2 503.7,79.9 504.7,79.3 505.7,79.8 506.7,79.2 507.7,79.5 508.7,79.3 509.7,79.8" stroke="#1a1a1a" stroke-width="0.6" fill="none" stroke-linejoin="round" />
<polyline points="359.5,77.1 359.7,77.1 359.9,77.2 360.1,77.2 360.3,76.8 360.5,77.0 360.7,76.8 360.9,76.5 361.1,77.0 361.3,76.8 361.5,76.9 361.7,76.4 361.9,76.6 362.1,76.5 362.3,76.7 362.5,76.1 362.7,76.3 362.9,76.4 363.1,76.1 363.3,76.5 363.5,76.6 363.7,76.4 364.2,76.7 364.7,76.8 365.2,76.6 365.7,76.8 366.2,77.4 366.7,77.2 367.2,77.5 367.7,77.4 368.2,77.8 368.7,77.9 369.2,78.8 369.7,78.8 370.2,79.1 370.7,79.4 371.2,79.3 371.7,79.7 372.2,79.5 372.7,79.6 373.2,80.2 373.7,80.3 374.2,80.5 374.7,80.3 375.2,80.6 375.7,80.5 376.2,81.1 376.7,81.1 377.2,80.7 377.7,81.4 378.2,80.9 378.7,80.9 379.2,81.5 379.7,81.2 380.7,81.6 381.7,81.8 382.7,81.4 383.7,82.1 384.7,81.8 385.7,81.9 386.7,81.9 387.7,82.2 388.7,82.2 389.7,81.8 390.7,81.6 391.7,81.8 392.7,81.8 393.7,81.5 394.7,81.6 395.7,82.0 396.7,82.0 397.7,82.2 398.7,82.1 399.7,82.0 400.7,81.6 401.7,81.4 402.7,81.5 403.7,81.6 404.7,81.6 405.7,81.6 406.7,81.4 407.7,81.8 408.7,81.3 409.7,81.4 410.7,81.8 411.7,81.7 412.7,81.2 413.7,81.2 414.7,81.6 415.7,80.9 416.7,81.0 417.7,81.3 418.7,81.3 419.7,81.0 420.7,80.8 421.7,80.9 422.7,81.4 423.7,81.1 424.7,81.5 425.7,81.3 426.7,81.5 427.7,80.7 428.7,80.8 429.7,80.6 430.7,80.9 431.7,80.8 432.7,80.6 433.7,81.0 434.7,80.6 435.7,80.7 436.7,80.7 437.7,81.1 438.7,80.8 439.7,80.6 440.7,80.4 441.7,80.7 442.7,80.8 443.7,80.9 444.7,81.0 445.7,80.9 446.7,80.5 447.7,80.4 448.7,80.8 449.7,80.9 450.7,80.6 451.7,80.9 452.7,80.6 453.7,80.4 454.7,80.3 455.7,80.1 456.7,80.6 457.7,80.8 458.7,80.8 459.7,80.4 460.7,80.6 461.7,80.8 462.7,80.7 463.7,80.5 464.7,80.3 465.7,80.4 466.7,80.1 467.7,80.1 468.7,80.5 469.7,80.7 470.7,80.4 471.7,80.2 472.7,80.2 473.7,80.3 474.7,80.5 475.7,80.2 476.7,80.6 477.7,80.0 478.7,80.1 479.7,80.2 480.7,80.2 481.7,80.5 482.7,80.5 483.7,80.5 484.7,80.3 485.7,79.8 486.7,80.2 487.7,80.2 488.7,80.1 489.7,80.0 490.7,80.3 491.7,80.5 492.7,79.8 493.7,80.2 494.7,80.0 495.7,80.1 496.7,80.4 497.7,80.4 498.7,80.2 499.7,79.8 500.7,80.4 501.7,79.8 502.7,80.0 503.7,80.3 504.7,79.9 505.7,79.8 506.7,80.4 507.7,80.4 508.7,79.9 509.7,79.9" stroke="#1a1a1a" stroke-width="0.6" fill="none" stroke-linejoin="round" />
<polyline points="359.5,76.8 359.7,76.7 359.9,76.7 360.1,77.3 360.3,76.6 360.5,76.7 360.7,76.6 360.9,76.5 361.1,76.8 361.3,76.9 361.5,76.9 361.7,76.7 361.9,76.8 362.1,76.1 362.3,76.3 362.5,76.8 362.7,76.1 362.9,76.2 363.1,76.4 363.3,76.2 363.5,76.5 363.7,76.1 364.2,76.4 364.7,77.1 365.2,76.5 365.7,77.2 366.2,76.7 366.7,77.5 367.2,77.3 367.7,77.4 368.2,77.0 368.7,77.0 369.2,77.7 369.7,77.3 370.2,77.3 370.7,77.9 371.2,78.0 371.7,77.4 372.2,78.1 372.7,77.8 373.2,77.7 373.7,77.6 374.2,77.8 374.7,78.3 375.2,77.8 375.7,77.7 376.2,77.7 376.7,77.7 377.2,77.9 377.7,78.3 378.2,77.7 378.7,77.8 379.2,78.3 379.7,78.4 380.7,78.4 381.7,77.8 382.7,77.9 383.7,78.3 384.7,78.0 385.7,78.1 386.7,77.8 387.7,77.6 388.7,77.8 389.7,78.2 390.7,78.2 391.7,78.0 392.7,77.9 393.7,78.0 394.7,77.9 395.7,78.0 396.7,78.2 397.7,77.7 398.7,78.0 399.7,78.3 400.7,78.2 401.7,77.6 402.7,78.3 403.7,78.2 404.7,77.6 405.7,77.7 406.7,77.6 407.7,77.5 408.7,78.2 409.7,77.8 410.7,78.2 411.7,77.5 412.7,77.5 413.7,78.1 414.7,78.1 415.7,78.2 416.7,78.0 417.7,77.8 418.7,78.0 419.7,77.5 420.7,77.8 421.7,77.8 422.7,77.5 423.7,77.9 424.7,77.7 425.7,77.8 426.7,77.7 427.7,77.6 428.7,77.7 429.7,77.9 430.7,78.2 431.7,78.1 432.7,78.1 433.7,78.0 434.7,77.6 435.7,78.1 436.7,77.6 437.7,77.4 438.7,77.7 439.7,77.9 440.7,77.6 441.7,77.9 442.7,77.6 443.7,78.1 444.7,77.7 445.7,77.7 446.7,77.7 447.7,78.0 448.7,78.1 449.7,77.7 450.7,77.7 451.7,77.8 452.7,77.4 453.7,77.6 454.7,78.0 455.7,77.9 456.7,77.3 457.7,78.0 458.7,77.6 459.7,78.1 460.7,77.6 461.7,77.5 462.7,77.7 463.7,78.0 464.7,77.6 465.7,78.0 466.7,77.8 467.7,77.6 468.7,77.5 469.7,77.7 470.7,77.6 471.7,77.6 472.7,77.8 473.7,78.0 474.7,77.7 475.7,77.4 476.7,77.4 477.7,77.5 478.7,77.7 479.7,77.4 480.7,77.3 481.7,77.5 482.7,77.5 483.7,77.3 484.7,77.7 485.7,78.0 486.7,77.7 487.7,77.8 488.7,77.9 489.7,77.9 490.7,78.0 491.7,77.6 492.7,77.8 493.7,77.3 494.7,77.9 495.7,77.5 496.7,77.6 497.7,77.9 498.7,77.4 499.7,77.4 500.7,77.9 501.7,77.7 502.7,77.3 503.7,77.2 504.7,77.5 505.7,77.2 506.7,77.9 507.7,77.3 508.7,77.4 509.7,77.5" stroke="#1a1a1a" stroke-width="0.6" fill="none" stroke-linejoin="round" />
<polyline points="359.5,77.0 359.7,76.9 359.9,77.0 360.1,77.1 360.3,76.9 360.5,76.6 360.7,77.2 360.9,77.0 361.1,76.4 361.3,76.7 361.5,76.9 361.7,77.0 361.9,76.2 362.1,76.1 362.3,76.5 362.5,76.4 362.7,76.7 362.9,76.7 363.1,76.3 363.3,76.3 363.5,76.5 363.7,76.8 364.2,76.3 364.7,76.6 365.2,76.5 365.7,77.0 366.2,76.6 366.7,77.5 367.2,77.3 367.7,77.5 368.2,77.2 368.7,77.4 369.2,77.7 369.7,78.1 370.2,77.9 370.7,77.8 371.2,78.5 371.7,78.3 372.2,78.3 372.7,78.1 373.2,78.2 373.7,78.8 374.2,78.2 374.7,78.6 375.2,78.7 375.7,78.6 376.2,79.0 376.7,79.1 377.2,79.1 377.7,79.0 378.2,78.7 378.7,78.6 379.2,78.9 379.7,78.8 380.7,78.7 381.7,79.3 382.7,78.8 383.7,79.3 384.7,79.4 385.7,78.7 386.7,79.3 387.7,78.9 388.7,78.8 389.7,78.7 390.7,78.6 391.7,79.0 392.7,78.9 393.7,79.3 394.7,79.3 395.7,78.6 396.7,78.9 397.7,78.9 398.7,78.7 399.7,78.8 400.7,78.8 401.7,79.2 402.7,78.9 403.7,78.7 404.7,78.8 405.7,79.0 406.7,79.1 407.7,78.8 408.7,79.2 409.7,78.8 410.7,79.1 411.7,79.1 412.7,78.7 413.7,79.2 414.7,78.9 415.7,79.0 416.7,79.1 417.7,79.1 418.7,79.0 419.7,78.6 420.7,79.2 421.7,79.3 422.7,79.0 423.7,79.1 424.7,78.8 425.7,79.3 426.7,79.1 427.7,78.8 428.7,79.3 429.7,79.4 430.7,78.9 431.7,79.4 432.7,79.0 433.7,78.7 434.7,79.2 435.7,78.9 436.7,79.2 437.7,79.1 438.7,78.7 439.7,79.0 440.7,79.3 441.7,79.0 442.7,79.0 443.7,79.3 444.7,79.0 445.7,79.0 446.7,79.1 447.7,79.3 448.7,78.8 449.7,78.7 450.7,79.2 451.7,79.0 452.7,78.8 453.7,79.3 454.7,79.3 455.7,79.0 456.7,79.4 457.7,79.3 458.7,79.2 459.7,78.8 460.7,78.6 461.7,79.1 462.7,79.2 463.7,78.9 464.7,79.0 465.7,79.1 466.7,78.8 467.7,79.2 468.7,79.1 469.7,78.9 470.7,78.7 471.7,79.0 472.7,78.9 473.7,79.2 474.7,78.7 475.7,78.9 476.7,78.8 477.7,78.9 478.7,79.1 479.7,78.7 480.7,78.6 481.7,79.0 482.7,78.8 483.7,79.0 484.7,78.7 485.7,78.7 486.7,79.0 487.7,79.3 488.7,79.3 489.7,79.0 490.7,78.9 491.7,78.7 492.7,78.8 493.7,78.9 494.7,79.4 495.7,78.7 496.7,79.4 497.7,79.0 498.7,78.9 499.7,78.8 500.7,79.4 501.7,78.7 502.7,79.1 503.7,79.0 504.7,78.8 505.7,78.8 506.7,79.4 507.7,79.2 508.7,79.2 509.7,79.3" stroke="#1a1a1a" stroke-width="0.6" fill="none" stroke-linejoin="round" />
<polyline points="359.5,76.7 359.7,77.1 359.9,77.1 360.1,76.7 360.3,76.9 360.5,77.3 360.7,76.7 360.9,77.0 361.1,76.5 361.3,76.8 361.5,76.5 361.7,76.6 361.9,76.5 362.1,76.8 362.3,76.7 362.5,76.4 362.7,76.6 362.9,76.3 363.1,76.6 363.3,76.2 363.5,76.5 363.7,76.5 364.2,76.5 364.7,76.3 365.2,76.6 365.7,77.0 366.2,76.8 366.7,77.4 367.2,77.4 367.7,77.9 368.2,78.0 368.7,78.0 369.2,77.9 369.7,77.7 370.2,78.3 370.7,78.6 371.2,78.8 371.7,78.4 372.2,78.4 372.7,79.2 373.2,79.1 373.7,79.0 374.2,79.3 374.7,78.9 375.2,79.3 375.7,79.5 376.2,79.5 376.7,79.2 377.2,79.3 377.7,79.7 378.2,80.0 378.7,79.5 379.2,79.4 379.7,79.5 380.7,80.1 381.7,79.9 382.7,79.9 383.7,80.4 384.7,80.1 385.7,79.8 386.7,80.1 387.7,79.5 388.7,79.8 389.7,80.1 390.7,79.6 391.7,79.5 392.7,79.9 393.7,79.7 394.7,80.2 395.7,79.5 396.7,80.0 397.7,79.7 398.7,80.0 399.7,79.7 400.7,79.8 401.7,79.5 402.7,79.4 403.7,79.6 404.7,79.8 405.7,79.4 406.7,79.3 407.7,79.4 408.7,79.2 409.7,79.3 410.7,79.5 411.7,79.5 412.7,79.5 413.7,79.2 414.7,79.0 415.7,79.0 416.7,79.2 417.7,79.1 418.7,79.3 419.7,79.1 420.7,79.4 421.7,79.3 422.7,79.3 423.7,79.4 424.7,79.2 425.7,79.1 426.7,79.0 427.7,78.8 428.7,79.3 429.7,79.1 430.7,78.7 431.7,79.4 432.7,79.1 433.7,79.1 434.7,78.9 435.7,78.7 436.7,79.3 437.7,78.7 438.7,78.8 439.7,79.3 440.7,78.6 441.7,78.9 442.7,78.8 443.7,78.6 444.7,79.2 445.7,78.7 446.7,78.4 447.7,78.7 448.7,78.4 449.7,78.9 450.7,79.0 451.7,79.0 452.7,78.3 453.7,78.8 454.7,78.5 455.7,78.6 456.7,78.5 457.7,78.5 458.7,78.3 459.7,78.7 460.7,78.3 461.7,79.0 462.7,78.2 463.7,78.9 464.7,78.3 465.7,78.2 466.7,78.7 467.7,78.5 468.7,78.7 469.7,78.5 470.7,78.6 471.7,78.1 472.7,78.6 473.7,78.5 474.7,78.8 475.7,78.0 476.7,78.1 477.7,78.6 478.7,78.8 479.7,78.3 480.7,78.6 481.7,78.4 482.7,78.3 483.7,78.3 484.7,78.4 485.7,78.0 486.7,78.2 487.7,78.5 488.7,78.1 489.7,78.3 490.7,78.1 491.7,78.2 492.7,78.4 493.7,78.5 494.7,78.7 495.7,78.3 496.7,78.0 497.7,78.1 498.7,77.9 499.7,78.0 500.7,78.3 501.7,78.3 502.7,78.0 503.7,78.0 504.7,77.9 505.7,78.0 506.7,78.2 507.7,78.0 508.7,78.5 509.7,78.3" stroke="#1a1a1a" stroke-width="0.6" fill="none" stroke-linejoin="round" />
<polyline points="359.5,76.8 359.7,76.9 359.9,76.6 360.1,77.1 360.3,77.1 360.5,76.8 360.7,77.0 360.9,76.6 361.1,76.5 361.3,76.5 361.5,76.4 361.7,76.7 361.9,76.7 362.1,76.7 362.3,76.2 362.5,76.6 362.7,76.4 362.9,76.3 363.1,76.4 363.3,76.4 363.5,76.2 363.7,76.4 364.2,76.7 364.7,76.9 365.2,77.2 365.7,76.7 366.2,77.3 366.7,77.5 367.2,77.6 367.7,77.9 368.2,77.4 368.7,78.1 369.2,78.3 369.7,77.8 370.2,78.4 370.7,78.8 371.2,78.4 371.7,79.0 372.2,79.1 372.7,78.9 373.2,78.8 373.7,78.9 374.2,79.5 374.7,79.3 375.2,79.3 375.7,79.5 376.2,80.0 376.7,79.6 377.2,79.5 377.7,80.3 378.2,79.9 378.7,80.0 379.2,80.6 379.7,80.1 380.7,80.1 381.7,80.8 382.7,80.4 383.7,80.5 384.7,81.2 385.7,80.7 386.7,81.2 387.7,80.8 388.7,80.8 389.7,80.8 390.7,81.0 391.7,81.0 392.7,80.9 393.7,80.9 394.7,80.7 395.7,81.2 396.7,81.2 397.7,81.0 398.7,81.1 399.7,80.4 400.7,80.5 401.7,80.5 402.7,80.4 403.7,81.0 404.7,81.0 405.7,80.9 406.7,80.6 407.7,80.2 408.7,80.5 409.7,80.1 410.7,80.8 411.7,80.2 412.7,80.2 413.7,80.7 414.7,80.1 415.7,80.7 416.7,80.1 417.7,80.4 418.7,79.9 419.7,80.5 420.7,80.1 421.7,80.0 422.7,80.3 423.7,80.2 424.7,79.9 425.7,79.8 426.7,80.1 427.7,79.6 428.7,80.3 429.7,79.8 430.7,79.7 431.7,79.8 432.7,79.6 433.7,79.7 434.7,79.9 435.7,79.7 436.7,79.7 437.7,79.6 438.7,79.7 439.7,79.9 440.7,79.6 441.7,79.9 442.7,79.6 443.7,79.3 444.7,79.3 445.7,79.9 446.7,79.6 447.7,79.5 448.7,79.5 449.7,79.8 450.7,79.4 451.7,79.4 452.7,79.3 453.7,79.0 454.7,79.5 455.7,79.4 456.7,79.4 457.7,79.3 458.7,79.3 459.7,79.5 460.7,79.1 461.7,79.7 462.7,79.0 463.7,79.6 464.7,79.0 465.7,79.5 466.7,79.0 467.7,78.9 468.7,79.2 469.7,79.5 470.7,79.5 471.7,79.5 472.7,79.5 473.7,78.8 474.7,79.0 475.7,78.8 476.7,79.3 477.7,79.0 478.7,79.3 479.7,79.3 480.7,79.4 481.7,79.2 482.7,79.3 483.7,79.1 484.7,78.7 485.7,79.3 486.7,78.7 487.7,78.6 488.7,79.2 489.7,78.8 490.7,79.1 491.7,78.6 492.7,78.7 493.7,79.1 494.7,78.5 495.7,78.9 496.7,79.2 497.7,78.7 498.7,79.0 499.7,79.1 500.7,79.0 501.7,79.1 502.7,79.0 503.7,78.5 504.7,78.6 505.7,78.9 506.7,79.2 507.7,78.6 508.7,78.9 509.7,78.5" stroke="#1a1a1a" stroke-width="0.6" fill="none" stroke-linejoin="round" />
<polygon points="359.4,8.2 360.4,20 360.5,77 360.4,107 358.6,107 358.5,77 358.6,20" fill="#000"/>
<text x="552.00" y="22.50" font-size="11.5" text-anchor="start" font-weight="normal" fill="#1a1a1a" color="#1a1a1a" font-family='"Liberation Sans", sans-serif' >IS</text>
<polyline points="513.0,74.3 536.0,74.3" stroke="#f00" stroke-width="1.4" fill="none" stroke-linejoin="round" />
<polyline points="536.0,74.6 536.2,74.5 536.4,74.5 536.6,74.6 536.8,74.4 537.0,74.6 537.2,74.6 537.4,74.6 537.6,74.4 537.8,74.4 538.0,74.4 538.2,74.7 538.4,74.5 538.6,74.5 538.8,74.5 539.0,74.6 539.2,74.4 539.4,74.4 539.6,74.6 539.8,74.6 540.0,74.4 540.5,74.3 541.0,73.0 541.5,71.2 542.0,69.5 542.5,67.9 543.0,66.6 543.5,64.9 544.0,63.4 544.5,62.0 545.0,60.8 545.5,59.6 546.0,58.3 546.5,57.3 547.0,56.1 547.5,55.0 548.0,54.0 548.5,53.0 549.0,52.1 549.5,51.2 550.0,50.4 550.5,49.6 551.0,49.0 551.5,48.1 552.0,47.7 552.5,46.9 553.0,46.6 553.5,45.8 554.0,45.6 554.5,45.2 555.0,45.0 555.5,44.5 556.0,44.3 557.0,44.0 558.0,44.0 559.0,44.1 560.0,43.9 561.0,44.0 562.0,44.1 563.0,44.5 564.0,44.4 565.0,44.6 566.0,44.6 567.0,44.9 568.0,45.2 569.0,45.3 570.0,45.2 571.0,45.5 572.0,45.7 573.0,45.7 574.0,46.2 575.0,46.3 576.0,46.4 577.0,46.8 578.0,47.0 579.0,47.2 580.0,47.6 581.0,47.6 582.0,47.8 583.0,47.9 584.0,48.4 585.0,48.5 586.0,48.8 587.0,49.0 588.0,49.1 589.0,49.4 590.0,49.6 591.0,49.9 592.0,50.4 593.0,50.6 594.0,50.7 595.0,51.1 596.0,51.3 597.0,51.3 598.0,51.8 599.0,51.9 600.0,52.4 601.0,52.3 602.0,52.6 603.0,52.9 604.0,53.3 605.0,53.6 606.0,53.7 607.0,53.7 608.0,54.1 609.0,54.4 610.0,54.4 611.0,55.0 612.0,55.1 613.0,55.4 614.0,55.5 615.0,55.7 616.0,56.1 617.0,56.0 618.0,56.2 619.0,56.3 620.0,56.6 621.0,57.0 622.0,56.9 623.0,57.4 624.0,57.4 625.0,57.8 626.0,57.9 627.0,58.1 628.0,58.3 629.0,58.2 630.0,58.4 631.0,58.6 632.0,58.8 633.0,59.1 634.0,59.3 635.0,59.4 636.0,59.6 637.0,59.7 638.0,59.7 639.0,59.9 640.0,60.1 641.0,60.3 642.0,60.3 643.0,60.4 644.0,60.6 645.0,60.6 646.0,61.0 647.0,60.7 648.0,61.1 649.0,61.2 650.0,61.2 651.0,61.4 652.0,61.5 653.0,61.8 654.0,61.8 655.0,61.8 656.0,62.0 657.0,62.1 658.0,61.9 659.0,62.3 660.0,62.4 661.0,62.5 662.0,62.5 663.0,62.5 664.0,62.5 665.0,62.7 666.0,62.6 667.0,62.9 668.0,62.9 669.0,63.1 670.0,62.9 671.0,63.0 672.0,63.3 673.0,63.2 674.0,63.2 675.0,63.3 676.0,63.3 677.0,63.5 678.0,63.5 679.0,63.4 680.0,63.7 681.0,63.8" stroke="#f00" stroke-width="0.7" fill="none" stroke-linejoin="round" />
<polyline points="536.0,74.6 536.2,74.4 536.4,74.4 536.6,74.6 536.8,74.6 537.0,74.6 537.2,74.4 537.4,74.6 537.6,74.5 537.8,74.4 538.0,74.5 538.2,74.5 538.4,74.6 538.6,74.6 538.8,74.7 539.0,74.3 539.2,74.5 539.4,74.7 539.6,74.6 539.8,74.5 540.0,74.6 540.5,74.3 541.0,74.0 541.5,73.4 542.0,72.8 542.5,72.1 543.0,71.7 543.5,71.0 544.0,70.6 544.5,70.0 545.0,69.8 545.5,69.3 546.0,68.7 546.5,68.4 547.0,67.8 547.5,67.4 548.0,66.9 548.5,66.8 549.0,66.4 549.5,66.0 550.0,65.4 550.5,65.4 551.0,64.8 551.5,64.7 552.0,64.4 552.5,64.0 553.0,63.9 553.5,63.8 554.0,63.5 554.5,63.2 555.0,63.2 555.5,62.8 556.0,62.9 557.0,62.4 558.0,62.1 559.0,62.3 560.0,61.9 561.0,61.9 562.0,62.1 563.0,61.9 564.0,62.1 565.0,62.3 566.0,62.2 567.0,62.2 568.0,62.4 569.0,62.5 570.0,62.4 571.0,62.5 572.0,62.5 573.0,62.6 574.0,62.9 575.0,63.0 576.0,62.7 577.0,62.8 578.0,63.0 579.0,63.3 580.0,63.1 581.0,63.2 582.0,63.6 583.0,63.4 584.0,63.8 585.0,63.7 586.0,64.0 587.0,64.1 588.0,64.0 589.0,64.3 590.0,64.3 591.0,64.3 592.0,64.3 593.0,64.7 594.0,64.7 595.0,64.8 596.0,65.1 597.0,64.9 598.0,65.1 599.0,65.1 600.0,65.3 601.0,65.6 602.0,65.6 603.0,65.5 604.0,65.7 605.0,65.9 606.0,65.9 607.0,66.3 608.0,66.0 609.0,66.4 610.0,66.4 611.0,66.6 612.0,66.5 613.0,66.5 614.0,66.6 615.0,66.9 616.0,66.8 617.0,66.9 618.0,67.2 619.0,67.4 620.0,67.5 621.0,67.5 622.0,67.5 623.0,67.7 624.0,67.7 625.0,67.7 626.0,67.8 627.0,67.7 628.0,67.8 629.0,67.9 630.0,68.1 631.0,68.0 632.0,68.4 633.0,68.3 634.0,68.5 635.0,68.6 636.0,68.4 637.0,68.7 638.0,68.8 639.0,68.6 640.0,68.6 641.0,68.9 642.0,69.0 643.0,69.0 644.0,68.9 645.0,69.0 646.0,68.9 647.0,69.0 648.0,69.1 649.0,69.3 650.0,69.1 651.0,69.4 652.0,69.1 653.0,69.5 654.0,69.3 655.0,69.6 656.0,69.6 657.0,69.7 658.0,69.5 659.0,69.7 660.0,69.5 661.0,69.8 662.0,69.5 663.0,69.9 664.0,69.8 665.0,69.6 666.0,70.0 667.0,69.7 668.0,69.7 669.0,69.8 670.0,69.7 671.0,69.8 672.0,70.0 673.0,70.2 674.0,70.0 675.0,70.1" stroke="#f00" stroke-width="0.7" fill="none" stroke-linejoin="round" />
<polyline points="536.0,74.7 536.2,74.7 536.4,74.4 536.6,74.3 536.8,74.3 537.0,74.5 537.2,74.3 537.4,74.7 537.6,74.4 537.8,74.6 538.0,74.5 538.2,74.6 538.4,74.3 538.6,74.3 538.8,74.6 539.0,74.3 539.2,74.6 539.4,74.8 539.6,74.4 539.8,74.8 540.0,74.6 540.5,74.8 541.0,74.6 541.5,74.9 542.0,75.0 542.5,74.7 543.0,75.1 543.5,75.2 544.0,75.2 544.5,75.4 545.0,75.6 545.5,75.6 546.0,75.6 546.5,75.2 547.0,75.6 547.5,75.6 548.0,75.8 548.5,75.2 549.0,75.3 549.5,75.8 550.0,75.4 550.5,75.6 551.0,75.6 551.5,75.4 552.0,75.4 552.5,75.5 553.0,75.8 553.5,75.5 554.0,75.7 554.5,75.3 555.0,75.6 555.5,75.5 556.0,75.6 557.0,75.7 558.0,75.2 559.0,75.8 560.0,75.5 561.0,75.3 562.0,75.4 563.0,75.1 564.0,75.2 565.0,75.6 566.0,75.6 567.0,75.7 568.0,75.2 569.0,75.1 570.0,75.3 571.0,75.4 572.0,75.5 573.0,75.2 574.0,75.5 575.0,75.4 576.0,75.2 577.0,75.5 578.0,75.0 579.0,75.4 580.0,75.1 581.0,75.0 582.0,75.3 583.0,75.3 584.0,75.4 585.0,75.2 586.0,75.6 587.0,75.5 588.0,75.0 589.0,74.9 590.0,75.6 591.0,75.2 592.0,75.0 593.0,75.0 594.0,75.4 595.0,75.0 596.0,75.2 597.0,75.4 598.0,75.1 599.0,75.3 600.0,75.5 601.0,75.4 602.0,75.3 603.0,75.3 604.0,75.1 605.0,75.3 606.0,75.3 607.0,75.3 608.0,75.2 609.0,75.4 610.0,75.0 611.0,75.3 612.0,75.5 613.0,74.8 614.0,75.0 615.0,75.5 616.0,74.9 617.0,75.4 618.0,75.2 619.0,74.8 620.0,75.2 621.0,74.8 622.0,75.4 623.0,75.0 624.0,75.4 625.0,75.4 626.0,74.9 627.0,75.0 628.0,74.9 629.0,75.3 630.0,74.8 631.0,74.8 632.0,74.8 633.0,75.3 634.0,74.9 635.0,75.0 636.0,75.1 637.0,75.1 638.0,75.0 639.0,75.4 640.0,75.0 641.0,75.1 642.0,75.3 643.0,74.9 644.0,74.8 645.0,75.3 646.0,74.9 647.0,75.3 648.0,75.3 649.0,75.0 650.0,74.9 651.0,74.8 652.0,75.3 653.0,75.0 654.0,74.9 655.0,74.8 656.0,74.8 657.0,75.3 658.0,74.8 659.0,75.1 660.0,75.1 661.0,75.0 662.0,75.0 663.0,75.0 664.0,74.8 665.0,75.2 666.0,75.3 667.0,75.1 668.0,74.8 669.0,75.3 670.0,74.8 671.0,74.8 672.0,75.1 673.0,75.2 674.0,75.1 675.0,74.7 676.0,75.3 677.0,74.8 678.0,74.9 679.0,75.3 680.0,75.2 681.0,75.2" stroke="#f00" stroke-width="0.6" fill="none" stroke-linejoin="round" />
<polyline points="536.0,74.2 536.2,74.7 536.4,74.4 536.6,74.2 536.8,74.7 537.0,74.8 537.2,74.2 537.4,74.5 537.6,74.8 537.8,74.4 538.0,74.4 538.2,74.7 538.4,74.5 538.6,74.8 538.8,74.7 539.0,74.8 539.2,74.6 539.4,74.3 539.6,74.6 539.8,74.6 540.0,74.5 540.5,74.5 541.0,74.5 541.5,74.6 542.0,75.2 542.5,75.0 543.0,74.9 543.5,75.7 544.0,75.4 544.5,75.7 545.0,75.5 545.5,75.5 546.0,75.7 546.5,76.1 547.0,75.8 547.5,76.3 548.0,75.9 548.5,76.4 549.0,76.0 549.5,76.2 550.0,76.0 550.5,76.0 551.0,76.3 551.5,76.2 552.0,76.3 552.5,76.1 553.0,76.2 553.5,76.2 554.0,76.6 554.5,76.0 555.0,76.2 555.5,76.5 556.0,76.3 557.0,76.1 558.0,76.6 559.0,76.0 560.0,76.0 561.0,75.9 562.0,76.2 563.0,76.5 564.0,76.0 565.0,76.0 566.0,76.4 567.0,75.9 568.0,75.8 569.0,76.3 570.0,75.8 571.0,76.1 572.0,75.9 573.0,76.2 574.0,76.3 575.0,76.0 576.0,75.9 577.0,76.1 578.0,76.2 579.0,75.7 580.0,75.8 581.0,75.9 582.0,76.0 583.0,75.8 584.0,76.1 585.0,75.8 586.0,76.2 587.0,75.8 588.0,75.7 589.0,75.6 590.0,75.7 591.0,75.7 592.0,76.2 593.0,75.8 594.0,75.8 595.0,76.2 596.0,76.2 597.0,76.0 598.0,75.7 599.0,75.7 600.0,75.8 601.0,75.6 602.0,75.7 603.0,75.6 604.0,75.6 605.0,76.0 606.0,75.8 607.0,75.7 608.0,75.7 609.0,75.8 610.0,75.9 611.0,75.4 612.0,76.0 613.0,75.7 614.0,75.6 615.0,76.0 616.0,75.9 617.0,75.6 618.0,75.3 619.0,75.6 620.0,75.6 621.0,75.6 622.0,75.4 623.0,75.7 624.0,75.5 625.0,75.8 626.0,75.6 627.0,75.5 628.0,75.8 629.0,75.6 630.0,75.3 631.0,75.4 632.0,75.3 633.0,75.5 634.0,75.9 635.0,75.9 636.0,75.7 637.0,75.3 638.0,75.4 639.0,75.3 640.0,75.5 641.0,75.6 642.0,75.2 643.0,75.5 644.0,75.5 645.0,75.6 646.0,75.7 647.0,75.4 648.0,75.6 649.0,75.3 650.0,75.5 651.0,75.6 652.0,75.2 653.0,75.5 654.0,75.5 655.0,75.3 656.0,75.3 657.0,75.7 658.0,75.4 659.0,75.2 660.0,75.3 661.0,75.5 662.0,75.4 663.0,75.3 664.0,75.3 665.0,75.2 666.0,75.4 667.0,75.5 668.0,75.1 669.0,75.5 670.0,75.3 671.0,75.8 672.0,75.7 673.0,75.2 674.0,75.6 675.0,75.3 676.0,75.1 677.0,75.7 678.0,75.7 679.0,75.6 680.0,75.5 681.0,75.7" stroke="#f00" stroke-width="0.6" fill="none" stroke-linejoin="round" />
<polyline points="536.0,74.5 536.2,74.6 536.4,74.6 536.6,74.8 536.8,74.7 537.0,74.4 537.2,74.3 537.4,74.5 537.6,74.6 537.8,74.4 538.0,74.8 538.2,74.7 538.4,74.6 538.6,74.5 538.8,74.6 539.0,74.3 539.2,74.7 539.4,74.2 539.6,74.8 539.8,74.6 540.0,74.3 540.5,74.3 541.0,74.7 541.5,74.8 542.0,75.1 542.5,74.9 543.0,75.6 543.5,75.4 544.0,75.5 544.5,75.9 545.0,75.9 545.5,75.9 546.0,75.9 546.5,76.1 547.0,75.9 547.5,76.2 548.0,76.6 548.5,76.2 549.0,76.3 549.5,76.9 550.0,76.6 550.5,76.8 551.0,76.9 551.5,77.0 552.0,76.8 552.5,77.1 553.0,76.6 553.5,77.2 554.0,76.9 554.5,77.1 555.0,76.9 555.5,77.2 556.0,76.9 557.0,77.1 558.0,76.8 559.0,77.2 560.0,77.1 561.0,76.7 562.0,77.1 563.0,77.2 564.0,76.7 565.0,76.7 566.0,77.2 567.0,77.2 568.0,76.6 569.0,77.0 570.0,77.1 571.0,76.6 572.0,77.0 573.0,76.6 574.0,76.9 575.0,76.7 576.0,76.7 577.0,76.4 578.0,76.8 579.0,76.8 580.0,76.5 581.0,76.3 582.0,76.3 583.0,76.4 584.0,76.9 585.0,76.8 586.0,76.8 587.0,76.7 588.0,76.3 589.0,76.5 590.0,76.8 591.0,76.7 592.0,76.8 593.0,76.7 594.0,76.6 595.0,76.6 596.0,76.7 597.0,76.4 598.0,76.1 599.0,76.3 600.0,76.0 601.0,76.2 602.0,76.4 603.0,76.2 604.0,76.2 605.0,76.0 606.0,76.2 607.0,76.3 608.0,76.4 609.0,76.6 610.0,76.0 611.0,76.1 612.0,76.0 613.0,76.5 614.0,76.3 615.0,76.3 616.0,76.4 617.0,75.8 618.0,76.5 619.0,76.1 620.0,76.3 621.0,76.1 622.0,76.3 623.0,76.0 624.0,76.0 625.0,75.9 626.0,76.3 627.0,76.1 628.0,75.9 629.0,76.0 630.0,76.1 631.0,76.0 632.0,76.1 633.0,76.3 634.0,76.1 635.0,76.2 636.0,75.9 637.0,76.3 638.0,76.3 639.0,76.0 640.0,75.7 641.0,75.7 642.0,76.2 643.0,76.2 644.0,76.1 645.0,76.0 646.0,76.0 647.0,75.7 648.0,76.0 649.0,76.3 650.0,75.7 651.0,76.0 652.0,76.2 653.0,76.0 654.0,75.8 655.0,75.7 656.0,76.1 657.0,76.2 658.0,76.2 659.0,75.8 660.0,76.1 661.0,76.1 662.0,75.8 663.0,76.0 664.0,75.8 665.0,75.7 666.0,75.5 667.0,76.0 668.0,76.0 669.0,75.5 670.0,75.5 671.0,75.7 672.0,75.6 673.0,76.0 674.0,75.6 675.0,75.9 676.0,75.9 677.0,75.7 678.0,76.1 679.0,75.8 680.0,75.8 681.0,75.9" stroke="#f00" stroke-width="0.6" fill="none" stroke-linejoin="round" />
<polyline points="536.0,74.4 536.2,74.3 536.4,74.8 536.6,74.7 536.8,74.5 537.0,74.5 537.2,74.6 537.4,74.4 537.6,74.2 537.8,74.5 538.0,74.8 538.2,74.2 538.4,74.8 538.6,74.4 538.8,74.8 539.0,74.7 539.2,74.3 539.4,74.3 539.6,74.8 539.8,74.8 540.0,74.7 540.5,74.6 541.0,74.7 541.5,75.0 542.0,75.1 542.5,75.3 543.0,75.0 543.5,75.5 544.0,75.7 544.5,75.5 545.0,75.2 545.5,75.4 546.0,75.8 546.5,75.7 547.0,76.1 547.5,75.9 548.0,76.0 548.5,75.6 549.0,75.9 549.5,76.0 550.0,76.2 550.5,76.2 551.0,75.7 551.5,75.9 552.0,76.2 552.5,75.6 553.0,75.6 553.5,75.7 554.0,76.1 554.5,75.8 555.0,76.1 555.5,76.1 556.0,76.1 557.0,75.6 558.0,76.1 559.0,76.1 560.0,76.1 561.0,76.2 562.0,76.2 563.0,76.0 564.0,76.2 565.0,76.0 566.0,75.7 567.0,75.8 568.0,76.3 569.0,75.8 570.0,75.9 571.0,76.2 572.0,76.1 573.0,76.2 574.0,76.0 575.0,76.0 576.0,75.7 577.0,75.8 578.0,75.8 579.0,76.0 580.0,76.0 581.0,75.7 582.0,76.1 583.0,75.7 584.0,75.9 585.0,75.7 586.0,76.0 587.0,75.8 588.0,76.3 589.0,75.9 590.0,76.3 591.0,76.0 592.0,75.9 593.0,76.3 594.0,75.9 595.0,76.1 596.0,76.1 597.0,76.4 598.0,76.2 599.0,75.7 600.0,76.0 601.0,76.4 602.0,76.3 603.0,76.0 604.0,75.8 605.0,75.9 606.0,76.3 607.0,75.9 608.0,76.4 609.0,75.9 610.0,76.2 611.0,76.2 612.0,75.9 613.0,76.1 614.0,76.2 615.0,75.9 616.0,76.1 617.0,76.2 618.0,76.4 619.0,76.0 620.0,75.9 621.0,76.1 622.0,76.2 623.0,76.1 624.0,76.4 625.0,75.9 626.0,76.1 627.0,76.1 628.0,75.9 629.0,76.1 630.0,76.1 631.0,76.0 632.0,76.3 633.0,76.5 634.0,76.5 635.0,75.9 636.0,76.1 637.0,76.5 638.0,75.9 639.0,75.9 640.0,75.8 641.0,76.5 642.0,76.2 643.0,76.1 644.0,75.9 645.0,76.4 646.0,76.5 647.0,76.3 648.0,76.5 649.0,76.2 650.0,76.0 651.0,75.9 652.0,76.0 653.0,75.9 654.0,76.1 655.0,75.9 656.0,75.9 657.0,76.5 658.0,76.4 659.0,76.4 660.0,76.1 661.0,76.1 662.0,76.2 663.0,76.4 664.0,76.0 665.0,76.2 666.0,76.2 667.0,76.4 668.0,76.1 669.0,75.8 670.0,76.1 671.0,76.5 672.0,76.0 673.0,76.3 674.0,75.9 675.0,76.0 676.0,76.3 677.0,75.9 678.0,76.2 679.0,76.3 680.0,76.1 681.0,76.4" stroke="#f00" stroke-width="0.6" fill="none" stroke-linejoin="round" />
<polyline points="536.0,74.7 536.2,74.3 536.4,74.7 536.6,74.7 536.8,74.6 537.0,74.6 537.2,74.5 537.4,74.7 537.6,74.6 537.8,74.3 538.0,74.6 538.2,74.6 538.4,74.5 538.6,74.8 538.8,74.4 539.0,74.5 539.2,74.5 539.4,74.6 539.6,74.3 539.8,74.6 540.0,74.2 540.5,74.5 541.0,74.9 541.5,75.4 542.0,75.8 542.5,76.2 543.0,75.9 543.5,76.6 544.0,76.5 544.5,76.6 545.0,76.4 545.5,77.0 546.0,76.6 546.5,76.6 547.0,76.7 547.5,76.6 548.0,76.6 548.5,76.6 549.0,76.8 549.5,76.7 550.0,76.9 550.5,77.0 551.0,77.0 551.5,76.6 552.0,76.8 552.5,76.9 553.0,76.8 553.5,76.6 554.0,76.4 554.5,76.8 555.0,76.7 555.5,76.5 556.0,76.7 557.0,76.3 558.0,76.8 559.0,76.8 560.0,76.9 561.0,76.2 562.0,76.6 563.0,76.7 564.0,76.2 565.0,76.5 566.0,76.2 567.0,76.2 568.0,76.0 569.0,76.2 570.0,76.5 571.0,76.3 572.0,76.5 573.0,76.6 574.0,76.0 575.0,76.4 576.0,76.4 577.0,76.2 578.0,76.0 579.0,75.9 580.0,76.0 581.0,76.0 582.0,75.9 583.0,76.1 584.0,76.1 585.0,75.8 586.0,75.7 587.0,75.9 588.0,76.0 589.0,76.0 590.0,76.0 591.0,76.1 592.0,76.0 593.0,75.8 594.0,76.0 595.0,75.9 596.0,75.6 597.0,75.5 598.0,75.6 599.0,75.8 600.0,75.8 601.0,75.5 602.0,75.7 603.0,75.3 604.0,75.7 605.0,75.5 606.0,75.8 607.0,75.8 608.0,75.2 609.0,75.8 610.0,75.3 611.0,75.8 612.0,75.8 613.0,75.3 614.0,75.3 615.0,75.2 616.0,75.7 617.0,75.6 618.0,75.7 619.0,75.6 620.0,75.2 621.0,75.5 622.0,75.2 623.0,75.2 624.0,75.2 625.0,75.4 626.0,75.1 627.0,75.3 628.0,75.3 629.0,75.4 630.0,75.2 631.0,75.2 632.0,75.2 633.0,75.2 634.0,75.3 635.0,74.9 636.0,74.9 637.0,74.8 638.0,75.1 639.0,75.4 640.0,75.2 641.0,75.2 642.0,75.4 643.0,75.3 644.0,74.9 645.0,74.9 646.0,75.1 647.0,74.8 648.0,75.1 649.0,74.7 650.0,74.9 651.0,75.2 652.0,74.8 653.0,74.7 654.0,75.2 655.0,74.8 656.0,75.2 657.0,75.0 658.0,75.2 659.0,75.0 660.0,74.9 661.0,74.8 662.0,74.6 663.0,75.2 664.0,74.7 665.0,74.6 666.0,75.2 667.0,74.9 668.0,74.9 669.0,75.2 670.0,75.0 671.0,74.7 672.0,74.7 673.0,75.0 674.0,75.0 675.0,74.6 676.0,74.7 677.0,74.8 678.0,74.5 679.0,75.0 680.0,74.9 681.0,74.6" stroke="#f00" stroke-width="0.6" fill="none" stroke-linejoin="round" />
<polyline points="536.0,74.6 536.2,74.6 536.4,74.2 536.6,74.5 536.8,74.7 537.0,74.5 537.2,74.7 537.4,74.3 537.6,74.8 537.8,74.6 538.0,74.5 538.2,74.2 538.4,74.4 538.6,74.2 538.8,74.5 539.0,74.3 539.2,74.3 539.4,74.4 539.6,74.3 539.8,74.3 540.0,74.5 540.5,74.2 541.0,74.7 541.5,75.2 542.0,75.2 542.5,75.5 543.0,75.0 543.5,75.6 544.0,75.4 544.5,76.1 545.0,75.9 545.5,76.2 546.0,76.3 546.5,76.0 547.0,76.1 547.5,76.7 548.0,76.8 548.5,76.6 549.0,76.4 549.5,76.5 550.0,77.2 550.5,77.2 551.0,77.0 551.5,77.3 552.0,77.5 552.5,76.9 553.0,77.5 553.5,77.7 554.0,77.7 554.5,77.7 555.0,77.5 555.5,77.6 556.0,77.3 557.0,77.8 558.0,77.7 559.0,77.5 560.0,77.3 561.0,77.3 562.0,77.5 563.0,77.8 564.0,77.5 565.0,77.8 566.0,77.3 567.0,77.3 568.0,77.3 569.0,77.3 570.0,77.7 571.0,77.3 572.0,77.3 573.0,77.5 574.0,77.3 575.0,77.6 576.0,77.5 577.0,77.6 578.0,77.3 579.0,77.2 580.0,77.3 581.0,77.6 582.0,77.6 583.0,77.3 584.0,77.2 585.0,76.9 586.0,77.5 587.0,77.3 588.0,77.1 589.0,76.9 590.0,77.1 591.0,77.3 592.0,77.0 593.0,76.9 594.0,77.1 595.0,77.1 596.0,76.7 597.0,76.7 598.0,76.9 599.0,77.2 600.0,76.9 601.0,76.7 602.0,76.8 603.0,76.8 604.0,77.1 605.0,76.8 606.0,77.3 607.0,76.8 608.0,76.7 609.0,76.6 610.0,76.9 611.0,76.9 612.0,77.1 613.0,77.0 614.0,76.9 615.0,76.5 616.0,77.1 617.0,76.6 618.0,76.6 619.0,76.6 620.0,76.8 621.0,76.9 622.0,76.6 623.0,76.6 624.0,76.4 625.0,76.8 626.0,76.9 627.0,76.4 628.0,76.5 629.0,76.9 630.0,76.8 631.0,76.4 632.0,77.0 633.0,76.8 634.0,76.8 635.0,76.5 636.0,77.0 637.0,76.6 638.0,76.7 639.0,77.0 640.0,76.8 641.0,76.4 642.0,76.3 643.0,76.4 644.0,76.3 645.0,76.8 646.0,76.6 647.0,76.5 648.0,76.5 649.0,76.5 650.0,76.5 651.0,76.7 652.0,76.5 653.0,76.8 654.0,76.8 655.0,76.8 656.0,76.7 657.0,76.3 658.0,76.4 659.0,76.7 660.0,76.4 661.0,76.5 662.0,76.3 663.0,76.7 664.0,76.4 665.0,76.4 666.0,76.7 667.0,76.2 668.0,76.1 669.0,76.4 670.0,76.4 671.0,76.2 672.0,76.4 673.0,76.6 674.0,76.7 675.0,76.7 676.0,76.6 677.0,76.1 678.0,76.3 679.0,76.4 680.0,76.1 681.0,76.6" stroke="#f00" stroke-width="0.6" fill="none" stroke-linejoin="round" />
<polyline points="536.0,74.4 536.2,74.7 536.4,74.6 536.6,74.4 536.8,74.4 537.0,74.5 537.2,74.3 537.4,74.2 537.6,74.5 537.8,74.3 538.0,74.4 538.2,74.7 538.4,74.6 538.6,74.4 538.8,74.2 539.0,74.7 539.2,74.4 539.4,74.3 539.6,74.7 539.8,74.7 540.0,74.4 540.5,74.5 541.0,75.1 541.5,75.2 542.0,75.4 542.5,75.6 543.0,75.8 543.5,76.6 544.0,76.8 544.5,76.7 545.0,77.2 545.5,77.2 546.0,77.8 546.5,77.8 547.0,78.3 547.5,78.4 548.0,78.3 548.5,78.8 549.0,79.1 549.5,78.9 550.0,79.1 550.5,79.4 551.0,79.9 551.5,80.2 552.0,80.0 552.5,80.4 553.0,80.5 553.5,80.4 554.0,80.6 554.5,80.9 555.0,80.8 555.5,81.0 556.0,81.2 557.0,81.0 558.0,81.3 559.0,81.5 560.0,81.6 561.0,81.7 562.0,81.5 563.0,81.6 564.0,81.6 565.0,81.3 566.0,81.7 567.0,81.8 568.0,81.5 569.0,81.4 570.0,81.4 571.0,81.4 572.0,81.3 573.0,81.2 574.0,81.6 575.0,81.2 576.0,81.1 577.0,81.3 578.0,80.9 579.0,81.1 580.0,81.1 581.0,81.3 582.0,80.9 583.0,80.7 584.0,81.2 585.0,80.6 586.0,80.8 587.0,80.8 588.0,81.0 589.0,80.6 590.0,80.5 591.0,80.5 592.0,80.5 593.0,80.3 594.0,80.7 595.0,80.4 596.0,80.5 597.0,80.2 598.0,80.3 599.0,80.4 600.0,80.0 601.0,80.4 602.0,79.9 603.0,80.1 604.0,80.2 605.0,79.9 606.0,80.1 607.0,79.7 608.0,79.7 609.0,79.9 610.0,79.7 611.0,79.3 612.0,79.3 613.0,79.5 614.0,79.3 615.0,79.1 616.0,79.5 617.0,79.1 618.0,79.4 619.0,79.1 620.0,78.9 621.0,79.0 622.0,79.2 623.0,79.2 624.0,78.9 625.0,78.7 626.0,78.8 627.0,78.6 628.0,78.6 629.0,78.4 630.0,78.3 631.0,78.8 632.0,78.7 633.0,78.3 634.0,78.5 635.0,78.1 636.0,78.6 637.0,78.4 638.0,78.4 639.0,78.2 640.0,78.2 641.0,78.4 642.0,78.0 643.0,77.8 644.0,77.8 645.0,78.3 646.0,77.8 647.0,77.7 648.0,77.9 649.0,77.6 650.0,77.8 651.0,78.0 652.0,77.6 653.0,77.7 654.0,78.0 655.0,77.9 656.0,77.9 657.0,77.3 658.0,77.9 659.0,77.6 660.0,77.3 661.0,77.8 662.0,77.2 663.0,77.7 664.0,77.1 665.0,77.1 666.0,77.3 667.0,77.4 668.0,77.3 669.0,77.5 670.0,77.0 671.0,77.4 672.0,77.1 673.0,77.4 674.0,77.2 675.0,77.2 676.0,76.9 677.0,77.3 678.0,76.9 679.0,76.9 680.0,77.0 681.0,77.2" stroke="#f00" stroke-width="0.6" fill="none" stroke-linejoin="round" />
<polygon points="535.4,14.9 536.3,40 536.6,74 536.6,80 536.3,112.7 535.9,112.7 535.6,80 534.6,74 534.8,40" fill="#f00"/>
<polyline points="610.9,108.1 638.3,108.1 638.3,87.2" stroke="#000" stroke-width="3.4" fill="none" stroke-linejoin="round" stroke-linejoin="miter"/>
<text transform="translate(645.60,103.10) scale(1,1.05)" font-size="10.8" text-anchor="start" font-weight="normal" fill="#1a1a1a" color="#1a1a1a" font-family='"Liberation Sans", sans-serif'>100pA</text>
<text transform="translate(612.90,121.50) scale(1,1.05)" font-size="10.8" text-anchor="start" font-weight="normal" fill="#1a1a1a" color="#1a1a1a" font-family='"Liberation Sans", sans-serif'>50ms</text>
<line x1="55.50" y1="138.70" x2="55.50" y2="315.00" stroke="#111" stroke-width="1.0"/>
<line x1="49.00" y1="139.20" x2="56.00" y2="139.20" stroke="#111" stroke-width="1.0"/>
<text transform="translate(46.20,142.80) scale(1,1.06)" font-size="11.7" text-anchor="end" font-weight="normal" fill="#1a1a1a" color="#1a1a1a" font-family='"Liberation Sans", sans-serif'>400</text>
<line x1="49.00" y1="183.00" x2="56.00" y2="183.00" stroke="#111" stroke-width="1.0"/>
<text transform="translate(46.20,186.60) scale(1,1.06)" font-size="11.7" text-anchor="end" font-weight="normal" fill="#1a1a1a" color="#1a1a1a" font-family='"Liberation Sans", sans-serif'>300</text>
<line x1="49.00" y1="226.80" x2="56.00" y2="226.80" stroke="#111" stroke-width="1.0"/>
<text transform="translate(46.20,230.40) scale(1,1.06)" font-size="11.7" text-anchor="end" font-weight="normal" fill="#1a1a1a" color="#1a1a1a" font-family='"Liberation Sans", sans-serif'>200</text>
<line x1="49.00" y1="270.60" x2="56.00" y2="270.60" stroke="#111" stroke-width="1.0"/>
<text transform="translate(46.20,274.20) scale(1,1.06)" font-size="11.7" text-anchor="end" font-weight="normal" fill="#1a1a1a" color="#1a1a1a" font-family='"Liberation Sans", sans-serif'>100</text>
<line x1="49.00" y1="314.40" x2="56.00" y2="314.40" stroke="#111" stroke-width="1.0"/>
<text transform="translate(46.20,318.00) scale(1,1.06)" font-size="11.7" text-anchor="end" font-weight="normal" fill="#1a1a1a" color="#1a1a1a" font-family='"Liberation Sans", sans-serif'>0</text>
<line x1="72.50" y1="314.50" x2="318.30" y2="314.50" stroke="#111" stroke-width="1.0"/>
<line x1="73.00" y1="314.50" x2="73.00" y2="321.00" stroke="#111" stroke-width="1.0"/>
<text transform="translate(73.00,335.00) scale(1,1.06)" font-size="11.7" text-anchor="middle" font-weight="normal" fill="#1a1a1a" color="#1a1a1a" font-family='"Liberation Sans", sans-serif'>2</text>
<line x1="134.20" y1="314.50" x2="134.20" y2="321.00" stroke="#111" stroke-width="1.0"/>
<text transform="translate(134.20,335.00) scale(1,1.06)" font-size="11.7" text-anchor="middle" font-weight="normal" fill="#1a1a1a" color="#1a1a1a" font-family='"Liberation Sans", sans-serif'>3</text>
<line x1="195.50" y1="314.50" x2="195.50" y2="321.00" stroke="#111" stroke-width="1.0"/>
<text transform="translate(195.50,335.00) scale(1,1.06)" font-size="11.7" text-anchor="middle" font-weight="normal" fill="#1a1a1a" color="#1a1a1a" font-family='"Liberation Sans", sans-serif'>4</text>
<line x1="256.70" y1="314.50" x2="256.70" y2="321.00" stroke="#111" stroke-width="1.0"/>
<text transform="translate(256.70,335.00) scale(1,1.06)" font-size="11.7" text-anchor="middle" font-weight="normal" fill="#1a1a1a" color="#1a1a1a" font-family='"Liberation Sans", sans-serif'>5</text>
<line x1="317.80" y1="314.50" x2="317.80" y2="321.00" stroke="#111" stroke-width="1.0"/>
<text transform="translate(317.80,335.00) scale(1,1.06)" font-size="11.7" text-anchor="middle" font-weight="normal" fill="#1a1a1a" color="#1a1a1a" font-family='"Liberation Sans", sans-serif'>6</text>
<text transform="translate(187.80,347.70) scale(1,1.06)" font-size="11" text-anchor="middle" font-weight="normal" fill="#1a1a1a" color="#1a1a1a" word-spacing="1.6" font-family='"Liberation Sans", sans-serif'>Stimulation intensity (V)</text>
<text x="0.00" y="0.00" font-size="11.4" text-anchor="middle" font-weight="normal" fill="#1a1a1a" color="#1a1a1a" font-family='"Liberation Sans", sans-serif' transform="translate(16.3,227.4) rotate(-90) scale(1,1.0)">EPSC amplitude (pA)</text>
<polyline points="73.0,303.3 134.2,276.3 195.5,236.6 256.7,201.7 317.8,186.0" stroke="#ff0000" stroke-width="1.1" fill="none" stroke-linejoin="round" />
<line x1="73.00" y1="301.30" x2="73.00" y2="305.30" stroke="#ff0000" stroke-width="1.2"/>
<line x1="69.80" y1="301.30" x2="76.20" y2="301.30" stroke="#ff0000" stroke-width="1.2"/>
<line x1="69.80" y1="305.30" x2="76.20" y2="305.30" stroke="#ff0000" stroke-width="1.2"/>
<line x1="134.20" y1="271.70" x2="134.20" y2="280.90" stroke="#ff0000" stroke-width="1.2"/>
<line x1="131.00" y1="271.70" x2="137.40" y2="271.70" stroke="#ff0000" stroke-width="1.2"/>
<line x1="131.00" y1="280.90" x2="137.40" y2="280.90" stroke="#ff0000" stroke-width="1.2"/>
<line x1="195.50" y1="221.50" x2="195.50" y2="251.70" stroke="#ff0000" stroke-width="1.2"/>
<line x1="192.30" y1="221.50" x2="198.70" y2="221.50" stroke="#ff0000" stroke-width="1.2"/>
<line x1="192.30" y1="251.70" x2="198.70" y2="251.70" stroke="#ff0000" stroke-width="1.2"/>
<line x1="256.70" y1="177.80" x2="256.70" y2="225.60" stroke="#ff0000" stroke-width="1.2"/>
<line x1="253.50" y1="177.80" x2="259.90" y2="177.80" stroke="#ff0000" stroke-width="1.2"/>
<line x1="253.50" y1="225.60" x2="259.90" y2="225.60" stroke="#ff0000" stroke-width="1.2"/>
<line x1="317.80" y1="162.40" x2="317.80" y2="209.60" stroke="#ff0000" stroke-width="1.2"/>
<line x1="314.60" y1="162.40" x2="321.00" y2="162.40" stroke="#ff0000" stroke-width="1.2"/>
<line x1="314.60" y1="209.60" x2="321.00" y2="209.60" stroke="#ff0000" stroke-width="1.2"/>
<polyline points="73.0,308.6 134.2,295.0 195.5,274.5 256.7,255.6 317.8,240.4" stroke="#111" stroke-width="1.1" fill="none" stroke-linejoin="round" />
<line x1="73.00" y1="306.60" x2="73.00" y2="310.60" stroke="#111" stroke-width="1.2"/>
<line x1="69.80" y1="306.60" x2="76.20" y2="306.60" stroke="#111" stroke-width="1.2"/>
<line x1="69.80" y1="310.60" x2="76.20" y2="310.60" stroke="#111" stroke-width="1.2"/>
<line x1="134.20" y1="291.00" x2="134.20" y2="299.00" stroke="#111" stroke-width="1.2"/>
<line x1="131.00" y1="291.00" x2="137.40" y2="291.00" stroke="#111" stroke-width="1.2"/>
<line x1="131.00" y1="299.00" x2="137.40" y2="299.00" stroke="#111" stroke-width="1.2"/>
<line x1="195.50" y1="268.00" x2="195.50" y2="281.00" stroke="#111" stroke-width="1.2"/>
<line x1="192.30" y1="268.00" x2="198.70" y2="268.00" stroke="#111" stroke-width="1.2"/>
<line x1="192.30" y1="281.00" x2="198.70" y2="281.00" stroke="#111" stroke-width="1.2"/>
<line x1="256.70" y1="246.00" x2="256.70" y2="265.20" stroke="#111" stroke-width="1.2"/>
<line x1="253.50" y1="246.00" x2="259.90" y2="246.00" stroke="#111" stroke-width="1.2"/>
<line x1="253.50" y1="265.20" x2="259.90" y2="265.20" stroke="#111" stroke-width="1.2"/>
<line x1="317.80" y1="228.40" x2="317.80" y2="252.40" stroke="#111" stroke-width="1.2"/>
<line x1="314.60" y1="228.40" x2="321.00" y2="228.40" stroke="#111" stroke-width="1.2"/>
<line x1="314.60" y1="252.40" x2="321.00" y2="252.40" stroke="#111" stroke-width="1.2"/>
<rect x="69.40" y="299.70" width="7.2" height="7.2" fill="#ff0000"/>
<rect x="130.60" y="272.70" width="7.2" height="7.2" fill="#ff0000"/>
<rect x="191.90" y="233.00" width="7.2" height="7.2" fill="#ff0000"/>
<rect x="253.10" y="198.10" width="7.2" height="7.2" fill="#ff0000"/>
<rect x="314.20" y="182.40" width="7.2" height="7.2" fill="#ff0000"/>
<circle cx="73.00" cy="308.60" r="3.7" fill="#000"/>
<circle cx="134.20" cy="295.00" r="3.7" fill="#000"/>
<circle cx="195.50" cy="274.50" r="3.7" fill="#000"/>
<circle cx="256.70" cy="255.60" r="3.7" fill="#000"/>
<circle cx="317.80" cy="240.40" r="3.7" fill="#000"/>
<text transform="translate(195.60,217.50) scale(1,1.1)" font-size="11" text-anchor="middle" font-weight="normal" fill="#111" color="#111" font-family='"Liberation Sans", sans-serif'>#</text>
<text transform="translate(258.10,174.50) scale(1,1.1)" font-size="11" text-anchor="middle" font-weight="normal" fill="#111" color="#111" font-family='"Liberation Sans", sans-serif'>##</text>
<text transform="translate(318.90,157.90) scale(1,1.1)" font-size="11" text-anchor="middle" font-weight="normal" fill="#111" color="#111" font-family='"Liberation Sans", sans-serif'>##</text>
<line x1="95.00" y1="156.40" x2="113.70" y2="156.40" stroke="#111" stroke-width="1.1"/>
<circle cx="104.40" cy="156.40" r="3.7" fill="#000"/>
<text transform="translate(122.70,160.40) scale(1,1.06)" font-size="11" text-anchor="start" font-weight="normal" fill="#1a1a1a" color="#1a1a1a" font-family='"Liberation Sans", sans-serif'>PBS</text>
<line x1="95.00" y1="181.50" x2="113.70" y2="181.50" stroke="#ff0000" stroke-width="1.1"/>
<rect x="100.80" y="177.90" width="7.2" height="7.2" fill="#ff0000"/>
<text transform="translate(125.80,185.50) scale(1,1.06)" font-size="11" text-anchor="start" font-weight="normal" fill="#1a1a1a" color="#1a1a1a" font-family='"Liberation Sans", sans-serif'>IS</text>
<line x1="523.50" y1="139.40" x2="523.50" y2="383.30" stroke="#111" stroke-width="1.0"/>
<line x1="517.00" y1="139.54" x2="524.00" y2="139.54" stroke="#111" stroke-width="1.0"/>
<text transform="translate(513.40,143.74) scale(1,1.06)" font-size="11.8" text-anchor="end" font-weight="normal" fill="#1a1a1a" color="#1a1a1a" font-family='"Liberation Sans", sans-serif'>120</text>
<line x1="517.00" y1="188.26" x2="524.00" y2="188.26" stroke="#111" stroke-width="1.0"/>
<text transform="translate(513.40,192.46) scale(1,1.06)" font-size="11.8" text-anchor="end" font-weight="normal" fill="#1a1a1a" color="#1a1a1a" font-family='"Liberation Sans", sans-serif'>80</text>
<line x1="517.00" y1="236.98" x2="524.00" y2="236.98" stroke="#111" stroke-width="1.0"/>
<text transform="translate(513.40,241.18) scale(1,1.06)" font-size="11.8" text-anchor="end" font-weight="normal" fill="#1a1a1a" color="#1a1a1a" font-family='"Liberation Sans", sans-serif'>40</text>
<line x1="517.00" y1="285.70" x2="524.00" y2="285.70" stroke="#111" stroke-width="1.0"/>
<line x1="517.00" y1="334.42" x2="524.00" y2="334.42" stroke="#111" stroke-width="1.0"/>
<text transform="translate(513.40,338.62) scale(1,1.06)" font-size="11.8" text-anchor="end" font-weight="normal" fill="#1a1a1a" color="#1a1a1a" font-family='"Liberation Sans", sans-serif'>-40</text>
<line x1="517.00" y1="383.14" x2="524.00" y2="383.14" stroke="#111" stroke-width="1.0"/>
<text transform="translate(513.40,387.34) scale(1,1.06)" font-size="11.8" text-anchor="end" font-weight="normal" fill="#1a1a1a" color="#1a1a1a" font-family='"Liberation Sans", sans-serif'>-80</text>
<text transform="translate(517.50,132.00) scale(1,1.06)" font-size="11.3" text-anchor="start" font-weight="normal" fill="#1a1a1a" color="#1a1a1a" font-family='"Liberation Sans", sans-serif'>I(%)</text>
<line x1="347.50" y1="285.50" x2="611.20" y2="285.50" stroke="#111" stroke-width="1.0"/>
<line x1="348.00" y1="285.20" x2="348.00" y2="292.00" stroke="#111" stroke-width="1.0"/>
<text transform="translate(347.70,306.50) scale(1,1.06)" font-size="11.8" text-anchor="middle" font-weight="normal" fill="#1a1a1a" color="#1a1a1a" font-family='"Liberation Sans", sans-serif'>-80</text>
<line x1="392.20" y1="285.20" x2="392.20" y2="292.00" stroke="#111" stroke-width="1.0"/>
<text transform="translate(391.90,306.50) scale(1,1.06)" font-size="11.8" text-anchor="middle" font-weight="normal" fill="#1a1a1a" color="#1a1a1a" font-family='"Liberation Sans", sans-serif'>-60</text>
<line x1="436.00" y1="285.20" x2="436.00" y2="292.00" stroke="#111" stroke-width="1.0"/>
<text transform="translate(435.70,306.50) scale(1,1.06)" font-size="11.8" text-anchor="middle" font-weight="normal" fill="#1a1a1a" color="#1a1a1a" font-family='"Liberation Sans", sans-serif'>-40</text>
<line x1="479.80" y1="285.20" x2="479.80" y2="292.00" stroke="#111" stroke-width="1.0"/>
<text transform="translate(479.50,306.50) scale(1,1.06)" font-size="11.8" text-anchor="middle" font-weight="normal" fill="#1a1a1a" color="#1a1a1a" font-family='"Liberation Sans", sans-serif'>-20</text>
<line x1="524.00" y1="285.20" x2="524.00" y2="292.00" stroke="#111" stroke-width="1.0"/>
<line x1="567.20" y1="285.20" x2="567.20" y2="292.00" stroke="#111" stroke-width="1.0"/>
<text transform="translate(566.90,306.50) scale(1,1.06)" font-size="11.8" text-anchor="middle" font-weight="normal" fill="#1a1a1a" color="#1a1a1a" font-family='"Liberation Sans", sans-serif'>20</text>
<line x1="610.70" y1="285.20" x2="610.70" y2="292.00" stroke="#111" stroke-width="1.0"/>
<text transform="translate(610.40,306.50) scale(1,1.06)" font-size="11.8" text-anchor="middle" font-weight="normal" fill="#1a1a1a" color="#1a1a1a" font-family='"Liberation Sans", sans-serif'>40</text>
<text transform="translate(619.40,291.80) scale(1,1.06)" font-size="11.3" text-anchor="start" font-weight="normal" fill="#1a1a1a" color="#1a1a1a" font-family='"Liberation Sans", sans-serif'>Vm (mV)</text>
<polyline points="348.0,303.0 392.2,303.8 436.0,318.3 479.8,328.0 524.0,309.3 567.2,244.5 610.7,164.2" stroke="#ff0000" stroke-width="1.1" fill="none" stroke-linejoin="round" />
<line x1="436.00" y1="311.30" x2="436.00" y2="325.50" stroke="#ff0000" stroke-width="1.2"/>
<line x1="431.40" y1="311.30" x2="440.60" y2="311.30" stroke="#ff0000" stroke-width="1.2"/>
<line x1="431.40" y1="325.50" x2="440.60" y2="325.50" stroke="#ff0000" stroke-width="1.2"/>
<line x1="479.80" y1="322.70" x2="479.80" y2="333.30" stroke="#ff0000" stroke-width="1.2"/>
<line x1="475.20" y1="322.70" x2="484.40" y2="322.70" stroke="#ff0000" stroke-width="1.2"/>
<line x1="475.20" y1="333.30" x2="484.40" y2="333.30" stroke="#ff0000" stroke-width="1.2"/>
<line x1="524.00" y1="303.80" x2="524.00" y2="314.80" stroke="#ff0000" stroke-width="1.2"/>
<line x1="519.40" y1="303.80" x2="528.60" y2="303.80" stroke="#ff0000" stroke-width="1.2"/>
<line x1="519.40" y1="314.80" x2="528.60" y2="314.80" stroke="#ff0000" stroke-width="1.2"/>
<polyline points="348.0,296.0 392.2,296.0 436.0,300.2 479.8,308.5 524.0,293.0 567.2,241.4 610.7,164.2" stroke="#111" stroke-width="1.1" fill="none" stroke-linejoin="round" />
<line x1="524.00" y1="288.10" x2="524.00" y2="298.50" stroke="#111" stroke-width="1.2"/>
<line x1="519.60" y1="288.10" x2="528.40" y2="288.10" stroke="#111" stroke-width="1.2"/>
<line x1="519.60" y1="298.50" x2="528.40" y2="298.50" stroke="#111" stroke-width="1.2"/>
<rect x="343.30" y="298.30" width="9.4" height="9.4" fill="#ff0000"/>
<rect x="387.50" y="299.10" width="9.4" height="9.4" fill="#ff0000"/>
<rect x="431.30" y="313.60" width="9.4" height="9.4" fill="#ff0000"/>
<rect x="475.10" y="323.30" width="9.4" height="9.4" fill="#ff0000"/>
<rect x="519.30" y="304.60" width="9.4" height="9.4" fill="#ff0000"/>
<rect x="562.50" y="239.80" width="9.4" height="9.4" fill="#ff0000"/>
<rect x="606.00" y="159.50" width="9.4" height="9.4" fill="#ff0000"/>
<circle cx="348.00" cy="296.00" r="4.5" fill="#000"/>
<circle cx="392.20" cy="296.00" r="4.5" fill="#000"/>
<circle cx="436.00" cy="300.20" r="4.5" fill="#000"/>
<circle cx="479.80" cy="308.50" r="4.5" fill="#000"/>
<circle cx="524.00" cy="293.00" r="4.5" fill="#000"/>
<circle cx="567.20" cy="241.40" r="4.5" fill="#000"/>
<circle cx="610.70" cy="164.20" r="4.5" fill="#000"/>
<text transform="translate(437.00,338.80) scale(1,1.1)" font-size="11" text-anchor="middle" font-weight="normal" fill="#111" color="#111" font-family='"Liberation Sans", sans-serif'>##</text>
<text transform="translate(480.70,346.00) scale(1,1.1)" font-size="11" text-anchor="middle" font-weight="normal" fill="#111" color="#111" font-family='"Liberation Sans", sans-serif'>##</text>
<text transform="translate(524.50,327.80) scale(1,1.1)" font-size="11" text-anchor="middle" font-weight="normal" fill="#111" color="#111" font-family='"Liberation Sans", sans-serif'>##</text>
<line x1="635.00" y1="153.40" x2="654.00" y2="153.40" stroke="#111" stroke-width="1.1"/>
<circle cx="644.50" cy="153.40" r="4.2" fill="#000"/>
<text transform="translate(662.80,158.80) scale(1,1.08)" font-size="11" text-anchor="start" font-weight="normal" fill="#1a1a1a" color="#1a1a1a" font-family='"Liberation Sans", sans-serif'>PBS</text>
<line x1="635.00" y1="178.00" x2="654.00" y2="178.00" stroke="#ff0000" stroke-width="1.1"/>
<rect x="640.50" y="174.00" width="8" height="8" fill="#ff0000"/>
<text transform="translate(662.80,184.80) scale(1,1.08)" font-size="11" text-anchor="start" font-weight="normal" fill="#1a1a1a" color="#1a1a1a" font-family='"Liberation Sans", sans-serif'>IS</text>
<text x="5.60" y="398.00" font-size="10.8" text-anchor="start" font-weight="bold" fill="#1a1a1a" color="#1a1a1a" font-family='"Liberation Sans", sans-serif' >C</text>
<text x="77.10" y="410.80" font-size="11.2" text-anchor="start" font-weight="normal" fill="#1a1a1a" color="#1a1a1a" font-family='"Liberation Sans", sans-serif' >PBS</text>
<polyline points="51.2,446.2 64.5,446.2" stroke="#444" stroke-width="0.7" fill="none" stroke-linejoin="round" />
<line x1="64.50" y1="403.20" x2="64.50" y2="446.00" stroke="#555" stroke-width="0.7"/>
<polyline points="64.5,446.2 64.7,459.6 64.9,473.0 65.1,470.0 65.3,467.3 65.5,465.0 65.7,463.0 65.9,461.1 66.1,459.4 66.3,458.0 66.5,456.7 66.7,455.5 66.9,454.4 67.1,453.4 67.3,452.8 67.5,452.1 67.7,451.3 67.9,450.8 68.1,450.3 68.3,449.9 68.5,449.4 69.0,448.6 69.5,446.9 70.0,445.5 70.5,444.2 71.0,443.1 71.5,442.1 72.0,441.0 72.5,440.0 73.0,439.2 73.5,438.6 74.0,437.8 74.5,437.1 75.0,436.6 75.5,436.0 76.0,435.4 76.5,435.0 77.0,434.5 77.5,434.2 78.0,433.8 78.5,433.4 79.0,433.1 79.5,432.7 80.0,432.5 80.5,432.2 81.0,432.0 81.5,431.7 82.0,431.7 82.5,431.4 83.0,431.5 83.5,431.2 84.0,431.2 84.5,431.2 85.5,431.1 86.5,431.1 87.5,431.0 88.5,430.9 89.5,431.2 90.5,431.1 91.5,431.4 92.5,431.3 93.5,431.4 94.5,431.5 95.5,431.6 96.5,431.8 97.5,431.8 98.5,431.8 99.5,432.0 100.5,432.0 101.5,432.3 102.5,432.2 103.5,432.3 104.5,432.5 105.5,432.5 106.5,432.8 107.5,432.8 108.5,432.8 109.5,432.9 110.5,433.1 111.5,433.2 112.5,433.3 113.5,433.3 114.5,433.5 115.5,433.6 116.5,433.7 117.5,433.7 118.5,433.9 119.5,433.8 120.5,433.9 121.5,434.0 122.5,434.3 123.5,434.1 124.5,434.3 125.5,434.4 126.5,434.5 127.5,434.6 128.5,434.6 129.5,434.7 130.5,434.9 131.5,434.8 132.5,434.9 133.5,435.1 134.5,435.0 135.5,435.1 136.5,435.2 137.5,435.4 138.5,435.4 139.5,435.5 140.5,435.6 141.5,435.7 142.5,435.6 143.5,435.7 144.5,435.8 145.5,435.9 146.5,435.8 147.5,436.0 148.5,436.1 149.5,436.0 150.5,436.1 151.5,436.1 152.5,436.4 153.5,436.2 154.5,436.3 155.5,436.5 156.5,436.4 157.5,436.6 158.5,436.6 159.5,436.8 160.5,436.7 161.5,436.7 162.5,436.7 163.5,436.8 164.5,437.0 165.5,437.0 166.5,437.0 167.5,437.0 168.5,437.2 169.5,437.1 170.5,437.2 171.5,437.3 172.5,437.3 173.5,437.2 174.5,437.4" stroke="#333" stroke-width="0.7" fill="none" stroke-linejoin="round" />
<polyline points="64.5,446.3 64.7,459.3 64.9,472.5 65.1,469.6 65.3,467.0 65.5,464.6 65.7,462.6 65.9,460.7 66.1,459.1 66.3,457.9 66.5,456.4 66.7,455.4 66.9,454.2 67.1,453.4 67.3,452.6 67.5,451.9 67.7,451.4 67.9,450.8 68.1,450.2 68.3,449.7 68.5,449.5 69.0,448.6 69.5,447.5 70.0,446.5 70.5,445.7 71.0,445.3 71.5,444.7 72.0,444.1 72.5,443.7 73.0,443.2 73.5,442.9 74.0,442.6 74.5,442.3 75.0,442.0 75.5,441.7 76.0,441.4 76.5,441.3 77.0,441.2 77.5,440.8 78.0,440.8 78.5,440.6 79.0,440.3 79.5,440.2 80.0,440.2 80.5,439.9 81.0,439.8 81.5,439.7 82.0,439.8 82.5,439.6 83.0,439.5 83.5,439.5 84.0,439.5 84.5,439.5 85.5,439.4 86.5,439.5 87.5,439.4 88.5,439.4 89.5,439.4 90.5,439.4 91.5,439.4 92.5,439.6 93.5,439.5 94.5,439.7 95.5,439.8 96.5,439.7 97.5,439.7 98.5,439.8 99.5,439.9 100.5,439.8 101.5,439.9 102.5,440.0 103.5,440.0 104.5,440.2 105.5,440.2 106.5,440.2 107.5,440.2 108.5,440.4 109.5,440.3 110.5,440.5 111.5,440.5 112.5,440.4 113.5,440.6 114.5,440.6 115.5,440.6 116.5,440.7 117.5,440.7 118.5,440.7 119.5,440.7 120.5,440.9 121.5,440.8 122.5,440.9 123.5,440.9 124.5,441.1 125.5,441.0 126.5,441.2 127.5,441.2 128.5,441.3 129.5,441.2 130.5,441.4 131.5,441.3 132.5,441.4 133.5,441.5 134.5,441.4 135.5,441.4 136.5,441.6 137.5,441.5 138.5,441.5 139.5,441.5 140.5,441.6 141.5,441.6 142.5,441.8 143.5,441.6 144.5,441.7 145.5,441.8 146.5,441.8 147.5,441.9 148.5,441.9 149.5,442.0 150.5,442.1 151.5,442.1 152.5,442.0 153.5,442.0 154.5,442.1 155.5,442.0 156.5,442.0 157.5,442.1 158.5,442.1 159.5,442.2 160.5,442.1 161.5,442.3 162.5,442.2 163.5,442.3 164.5,442.3 165.5,442.3 166.5,442.4 167.5,442.5 168.5,442.4 169.5,442.5 170.5,442.4 171.5,442.4 172.5,442.4 173.5,442.6 174.5,442.4" stroke="#333" stroke-width="0.7" fill="none" stroke-linejoin="round" />
<polyline points="64.5,446.1 64.7,459.2 64.9,471.9 65.1,469.0 65.3,466.6 65.5,464.3 65.7,462.3 65.9,460.5 66.1,458.9 66.3,457.5 66.5,456.2 66.7,455.2 66.9,454.1 67.1,453.2 67.3,452.6 67.5,451.9 67.7,451.1 67.9,450.6 68.1,450.0 68.3,449.6 68.5,449.3 69.0,448.6 69.5,447.6 70.0,447.1 70.5,446.7 71.0,446.1 71.5,445.9 72.0,445.5 72.5,445.4 73.0,445.2 73.5,445.0 74.0,444.8 74.5,444.5 75.0,444.5 75.5,444.3 76.0,444.1 76.5,444.0 77.0,444.0 77.5,443.9 78.0,443.8 78.5,443.8 79.0,443.6 79.5,443.7 80.0,443.4 80.5,443.5 81.0,443.4 81.5,443.3 82.0,443.3 82.5,443.2 83.0,443.2 83.5,443.2 84.0,443.1 84.5,443.3 85.5,443.2 86.5,443.2 87.5,443.2 88.5,443.0 89.5,443.0 90.5,443.0 91.5,443.2 92.5,443.2 93.5,443.3 94.5,443.2 95.5,443.2 96.5,443.3 97.5,443.4 98.5,443.3 99.5,443.3 100.5,443.3 101.5,443.3 102.5,443.5 103.5,443.6 104.5,443.5 105.5,443.4 106.5,443.6 107.5,443.6 108.5,443.7 109.5,443.6 110.5,443.6 111.5,443.8 112.5,443.6 113.5,443.9 114.5,443.7 115.5,443.8 116.5,443.7 117.5,443.8 118.5,443.9 119.5,443.8 120.5,443.9 121.5,443.9 122.5,443.9 123.5,444.1 124.5,444.0 125.5,444.2 126.5,444.2 127.5,444.2 128.5,444.3 129.5,444.3 130.5,444.2 131.5,444.3 132.5,444.3 133.5,444.2 134.5,444.4 135.5,444.2 136.5,444.4 137.5,444.5 138.5,444.4 139.5,444.5 140.5,444.5 141.5,444.5 142.5,444.4 143.5,444.5 144.5,444.5 145.5,444.6 146.5,444.7 147.5,444.7 148.5,444.6 149.5,444.7 150.5,444.7 151.5,444.6 152.5,444.7 153.5,444.6 154.5,444.6 155.5,444.7 156.5,444.8 157.5,444.7 158.5,444.7 159.5,444.8 160.5,444.8 161.5,444.7 162.5,444.8 163.5,444.7 164.5,444.8 165.5,445.0 166.5,444.8 167.5,445.0 168.5,445.0 169.5,445.0 170.5,445.0 171.5,444.9 172.5,444.9 173.5,445.1 174.5,445.0" stroke="#333" stroke-width="0.7" fill="none" stroke-linejoin="round" />
<text x="231.20" y="409.10" font-size="11" text-anchor="start" font-weight="normal" fill="#1a1a1a" color="#1a1a1a" font-family='"Liberation Sans", sans-serif' >IS</text>
<polyline points="202.3,446.2 216.3,446.2" stroke="#f00" stroke-width="0.9" fill="none" stroke-linejoin="round" />
<line x1="216.30" y1="396.30" x2="216.30" y2="421.00" stroke="#f9a0a0" stroke-width="0.8"/>
<line x1="216.30" y1="421.00" x2="216.30" y2="446.00" stroke="#f33" stroke-width="0.8"/>
<polyline points="216.3,446.9 216.5,459.3 216.7,472.1 216.9,467.4 217.1,463.8 217.3,460.6 217.5,458.1 217.7,456.1 217.9,454.3 218.1,453.1 218.3,452.0 218.5,451.0 218.7,450.2 218.9,449.6 219.1,449.1 219.3,448.6 219.5,448.4 219.7,448.2 219.9,447.9 220.1,447.7 220.3,447.4 220.5,447.3 221.0,447.1 221.5,447.0 222.0,447.0 222.5,446.9 223.0,446.9 223.5,446.8 224.0,446.7 224.5,446.7 225.0,446.9 225.5,446.9 226.0,446.8 226.5,446.8 227.0,446.5 227.5,446.3 228.0,446.1 228.5,445.9 229.0,445.7 229.5,445.6 230.0,445.2 230.5,444.8 231.0,444.5 231.5,444.1 232.0,443.8 232.5,443.4 233.0,443.1 233.5,442.6 234.0,442.3 234.5,442.0 235.0,441.4 235.5,441.0 236.0,440.7 236.5,440.2 237.5,439.4 238.5,438.4 239.5,437.6 240.5,436.5 241.5,435.7 242.5,434.9 243.5,433.9 244.5,433.1 245.5,432.2 246.5,431.4 247.5,430.7 248.5,429.9 249.5,429.1 250.5,428.5 251.5,427.9 252.5,427.3 253.5,426.8 254.5,426.4 255.5,425.8 256.5,425.4 257.5,425.1 258.5,424.8 259.5,424.5 260.5,424.3 261.5,424.1 262.5,424.1 263.5,424.0 264.5,424.1 265.5,424.0 266.5,424.0 267.5,424.2 268.5,424.3 269.5,424.4 270.5,424.5 271.5,424.6 272.5,424.6 273.5,424.8 274.5,424.8 275.5,424.9 276.5,424.9 277.5,425.0 278.5,425.2 279.5,425.3 280.5,425.5 281.5,425.7 282.5,425.9 283.5,425.9 284.5,426.1 285.5,426.0 286.5,426.3 287.5,426.4 288.5,426.6 289.5,426.6 290.5,426.8 291.5,426.9 292.5,427.1 293.5,427.2 294.5,427.4 295.5,427.6 296.5,427.6 297.5,427.7 298.5,427.9 299.5,428.0 300.5,428.2 301.5,428.3 302.5,428.4 303.5,428.5 304.5,428.5 305.5,428.8 306.5,428.9 307.5,428.8 308.5,428.9 309.5,429.3 310.5,429.3 311.5,429.4 312.5,429.5 313.5,429.5 314.5,429.7 315.5,429.9 316.5,429.9 317.5,429.9 318.5,430.0 319.5,430.1 320.5,430.4 321.5,430.5 322.5,430.6 323.5,430.5 324.5,430.6 325.5,430.6 326.5,430.7 327.5,430.8 328.5,430.9 329.5,431.0 330.5,431.2 331.5,431.3 332.5,431.2 333.5,431.4 334.5,431.3 335.5,431.4" stroke="#f55" stroke-width="0.75" fill="none" stroke-linejoin="round" />
<polyline points="216.3,446.9 216.5,459.1 216.7,471.4 216.9,467.1 217.1,463.3 217.3,460.3 217.5,458.0 217.7,456.0 217.9,454.2 218.1,453.0 218.3,451.7 218.5,451.0 218.7,450.1 218.9,449.5 219.1,448.9 219.3,448.5 219.5,448.3 219.7,447.9 219.9,447.8 220.1,447.7 220.3,447.4 220.5,447.4 221.0,447.2 221.5,447.0 222.0,447.0 222.5,446.9 223.0,446.9 223.5,446.7 224.0,446.9 224.5,446.8 225.0,446.7 225.5,446.7 226.0,446.9 226.5,446.8 227.0,446.7 227.5,446.6 228.0,446.6 228.5,446.5 229.0,446.2 229.5,446.3 230.0,446.1 230.5,446.0 231.0,445.8 231.5,445.6 232.0,445.4 232.5,445.4 233.0,445.1 233.5,444.8 234.0,444.8 234.5,444.5 235.0,444.2 235.5,444.2 236.0,443.9 236.5,443.7 237.5,443.2 238.5,442.9 239.5,442.4 240.5,442.1 241.5,441.7 242.5,441.2 243.5,440.8 244.5,440.3 245.5,440.0 246.5,439.4 247.5,439.0 248.5,438.7 249.5,438.3 250.5,438.0 251.5,437.6 252.5,437.3 253.5,437.0 254.5,436.8 255.5,436.5 256.5,436.4 257.5,436.1 258.5,435.9 259.5,435.8 260.5,435.6 261.5,435.6 262.5,435.4 263.5,435.3 264.5,435.4 265.5,435.4 266.5,435.3 267.5,435.3 268.5,435.4 269.5,435.5 270.5,435.5 271.5,435.3 272.5,435.4 273.5,435.6 274.5,435.5 275.5,435.6 276.5,435.6 277.5,435.6 278.5,435.6 279.5,435.9 280.5,435.8 281.5,435.9 282.5,435.9 283.5,436.0 284.5,436.1 285.5,436.0 286.5,436.2 287.5,436.1 288.5,436.3 289.5,436.4 290.5,436.3 291.5,436.4 292.5,436.5 293.5,436.6 294.5,436.7 295.5,436.6 296.5,436.6 297.5,436.8 298.5,436.8 299.5,436.7 300.5,436.8 301.5,437.1 302.5,437.0 303.5,436.9 304.5,437.2 305.5,437.2 306.5,437.1 307.5,437.4 308.5,437.2 309.5,437.3 310.5,437.4 311.5,437.4 312.5,437.4 313.5,437.5 314.5,437.6 315.5,437.7 316.5,437.7 317.5,437.8 318.5,437.8 319.5,437.8 320.5,437.8 321.5,437.9 322.5,438.0 323.5,437.9 324.5,438.0 325.5,437.9 326.5,437.9 327.5,438.0 328.5,438.2 329.5,438.1 330.5,438.2 331.5,438.2 332.5,438.3 333.5,438.2 334.5,438.4 335.5,438.2" stroke="#f55" stroke-width="0.75" fill="none" stroke-linejoin="round" />
<polyline points="216.3,446.8 216.5,458.8 216.7,471.0 216.9,466.7 217.1,463.1 217.3,460.2 217.5,457.7 217.7,455.7 217.9,454.0 218.1,452.8 218.3,451.8 218.5,450.8 218.7,450.2 218.9,449.4 219.1,449.1 219.3,448.5 219.5,448.4 219.7,447.9 219.9,447.7 220.1,447.6 220.3,447.5 220.5,447.4 221.0,447.1 221.5,447.1 222.0,446.8 222.5,446.8 223.0,446.8 223.5,446.8 224.0,446.7 224.5,446.7 225.0,446.8 225.5,446.8 226.0,446.8 226.5,446.8 227.0,446.7 227.5,446.8 228.0,446.6 228.5,446.7 229.0,446.7 229.5,446.5 230.0,446.5 230.5,446.5 231.0,446.3 231.5,446.2 232.0,446.2 232.5,446.2 233.0,446.1 233.5,446.0 234.0,445.9 234.5,445.8 235.0,445.8 235.5,445.5 236.0,445.6 236.5,445.4 237.5,445.4 238.5,445.0 239.5,445.0 240.5,444.7 241.5,444.6 242.5,444.4 243.5,444.3 244.5,444.0 245.5,443.9 246.5,443.7 247.5,443.5 248.5,443.6 249.5,443.3 250.5,443.1 251.5,443.0 252.5,443.0 253.5,443.0 254.5,442.8 255.5,442.8 256.5,442.6 257.5,442.7 258.5,442.6 259.5,442.5 260.5,442.4 261.5,442.5 262.5,442.5 263.5,442.5 264.5,442.6 265.5,442.5 266.5,442.5 267.5,442.5 268.5,442.5 269.5,442.5 270.5,442.6 271.5,442.5 272.5,442.5 273.5,442.6 274.5,442.5 275.5,442.7 276.5,442.7 277.5,442.6 278.5,442.5 279.5,442.8 280.5,442.6 281.5,442.8 282.5,442.7 283.5,442.8 284.5,442.7 285.5,442.8 286.5,442.7 287.5,442.8 288.5,442.9 289.5,442.8 290.5,442.7 291.5,442.8 292.5,442.8 293.5,442.9 294.5,442.9 295.5,442.9 296.5,442.9 297.5,442.9 298.5,442.9 299.5,442.9 300.5,443.1 301.5,442.9 302.5,442.9 303.5,443.0 304.5,442.9 305.5,442.9 306.5,443.0 307.5,443.1 308.5,443.0 309.5,443.0 310.5,443.0 311.5,443.1 312.5,443.0 313.5,443.1 314.5,443.1 315.5,443.0 316.5,443.1 317.5,443.2 318.5,443.1 319.5,443.2 320.5,443.1 321.5,443.2 322.5,443.2 323.5,443.2 324.5,443.1 325.5,443.1 326.5,443.2 327.5,443.3 328.5,443.2 329.5,443.3 330.5,443.3 331.5,443.4 332.5,443.2 333.5,443.4 334.5,443.2 335.5,443.2" stroke="#f55" stroke-width="0.75" fill="none" stroke-linejoin="round" />
<line x1="51.20" y1="480.60" x2="51.20" y2="622.40" stroke="#444" stroke-width="1.3"/>
<line x1="46.00" y1="481.00" x2="51.50" y2="481.00" stroke="#444" stroke-width="1.3"/>
<text x="43.40" y="484.90" font-size="11" text-anchor="end" font-weight="normal" fill="#1a1a1a" color="#1a1a1a" font-family='"Liberation Sans", sans-serif' >150</text>
<line x1="46.00" y1="527.97" x2="51.50" y2="527.97" stroke="#444" stroke-width="1.3"/>
<text x="43.40" y="531.87" font-size="11" text-anchor="end" font-weight="normal" fill="#1a1a1a" color="#1a1a1a" font-family='"Liberation Sans", sans-serif' >100</text>
<line x1="46.00" y1="574.93" x2="51.50" y2="574.93" stroke="#444" stroke-width="1.3"/>
<text x="43.40" y="578.83" font-size="11" text-anchor="end" font-weight="normal" fill="#1a1a1a" color="#1a1a1a" font-family='"Liberation Sans", sans-serif' >50</text>
<line x1="46.00" y1="621.90" x2="51.50" y2="621.90" stroke="#444" stroke-width="1.3"/>
<text x="43.40" y="625.80" font-size="11" text-anchor="end" font-weight="normal" fill="#1a1a1a" color="#1a1a1a" font-family='"Liberation Sans", sans-serif' >0</text>
<line x1="50.60" y1="621.90" x2="331.30" y2="621.90" stroke="#444" stroke-width="1.3"/>
<line x1="51.20" y1="621.90" x2="51.20" y2="627.00" stroke="#444" stroke-width="1.3"/>
<text x="51.20" y="640.00" font-size="11" text-anchor="middle" font-weight="normal" fill="#1a1a1a" color="#1a1a1a" font-family='"Liberation Sans", sans-serif' >0</text>
<line x1="91.15" y1="621.90" x2="91.15" y2="627.00" stroke="#444" stroke-width="1.3"/>
<text x="91.15" y="640.00" font-size="11" text-anchor="middle" font-weight="normal" fill="#1a1a1a" color="#1a1a1a" font-family='"Liberation Sans", sans-serif' >5</text>
<line x1="131.10" y1="621.90" x2="131.10" y2="627.00" stroke="#444" stroke-width="1.3"/>
<text x="131.10" y="640.00" font-size="11" text-anchor="middle" font-weight="normal" fill="#1a1a1a" color="#1a1a1a" font-family='"Liberation Sans", sans-serif' >10</text>
<line x1="171.05" y1="621.90" x2="171.05" y2="627.00" stroke="#444" stroke-width="1.3"/>
<text x="171.05" y="640.00" font-size="11" text-anchor="middle" font-weight="normal" fill="#1a1a1a" color="#1a1a1a" font-family='"Liberation Sans", sans-serif' >15</text>
<line x1="211.00" y1="621.90" x2="211.00" y2="627.00" stroke="#444" stroke-width="1.3"/>
<text x="211.00" y="640.00" font-size="11" text-anchor="middle" font-weight="normal" fill="#1a1a1a" color="#1a1a1a" font-family='"Liberation Sans", sans-serif' >20</text>
<line x1="250.95" y1="621.90" x2="250.95" y2="627.00" stroke="#444" stroke-width="1.3"/>
<text x="250.95" y="640.00" font-size="11" text-anchor="middle" font-weight="normal" fill="#1a1a1a" color="#1a1a1a" font-family='"Liberation Sans", sans-serif' >25</text>
<line x1="290.90" y1="621.90" x2="290.90" y2="627.00" stroke="#444" stroke-width="1.3"/>
<text x="290.90" y="640.00" font-size="11" text-anchor="middle" font-weight="normal" fill="#1a1a1a" color="#1a1a1a" font-family='"Liberation Sans", sans-serif' >30</text>
<line x1="330.85" y1="621.90" x2="330.85" y2="627.00" stroke="#444" stroke-width="1.3"/>
<text x="330.85" y="640.00" font-size="11" text-anchor="middle" font-weight="normal" fill="#1a1a1a" color="#1a1a1a" font-family='"Liberation Sans", sans-serif' >35</text>
<text x="203.00" y="658.40" font-size="11.4" text-anchor="middle" font-weight="normal" fill="#1a1a1a" color="#1a1a1a" font-family='"Liberation Sans", sans-serif' >Time (minutes)</text>
<text x="0.00" y="0.00" font-size="11.4" text-anchor="middle" font-weight="normal" fill="#1a1a1a" color="#1a1a1a" font-family='"Liberation Sans", sans-serif' transform="translate(14.6,551.5) rotate(-90) scale(1,1.0)">Amplitude (pA)</text>
<line x1="89.30" y1="511.30" x2="328.70" y2="511.30" stroke="#2a7ac4" stroke-width="2.2"/>
<text x="110.00" y="502.80" font-size="11.4" text-anchor="start" font-weight="normal" fill="#1a1a1a" color="#1a1a1a" font-family='"Liberation Sans", sans-serif' >PEAQX 0.4 μM</text>
<line x1="209.00" y1="553.60" x2="328.70" y2="553.60" stroke="#2ab04a" stroke-width="2.2"/>
<text x="223.80" y="548.60" font-size="11.4" text-anchor="start" font-weight="normal" fill="#1a1a1a" color="#1a1a1a" font-family='"Liberation Sans", sans-serif' >Ro25-6981&#160; 3 μM</text>
<rect x="56.79" y="528.67" width="4.8" height="4.8" fill="#ff0000"/>
<rect x="64.78" y="523.41" width="4.8" height="4.8" fill="#ff0000"/>
<rect x="72.77" y="525.95" width="4.8" height="4.8" fill="#ff0000"/>
<rect x="80.76" y="531.49" width="4.8" height="4.8" fill="#ff0000"/>
<rect x="88.75" y="529.33" width="4.8" height="4.8" fill="#ff0000"/>
<rect x="96.74" y="535.90" width="4.8" height="4.8" fill="#ff0000"/>
<rect x="104.73" y="539.38" width="4.8" height="4.8" fill="#ff0000"/>
<rect x="112.72" y="546.42" width="4.8" height="4.8" fill="#ff0000"/>
<rect x="120.71" y="556.47" width="4.8" height="4.8" fill="#ff0000"/>
<rect x="128.70" y="565.30" width="4.8" height="4.8" fill="#ff0000"/>
<rect x="136.69" y="574.04" width="4.8" height="4.8" fill="#ff0000"/>
<rect x="144.68" y="580.14" width="4.8" height="4.8" fill="#ff0000"/>
<rect x="152.67" y="583.81" width="4.8" height="4.8" fill="#ff0000"/>
<rect x="160.66" y="587.09" width="4.8" height="4.8" fill="#ff0000"/>
<rect x="168.65" y="590.66" width="4.8" height="4.8" fill="#ff0000"/>
<rect x="176.64" y="592.45" width="4.8" height="4.8" fill="#ff0000"/>
<rect x="184.63" y="593.76" width="4.8" height="4.8" fill="#ff0000"/>
<rect x="192.62" y="597.61" width="4.8" height="4.8" fill="#ff0000"/>
<rect x="200.61" y="599.02" width="4.8" height="4.8" fill="#ff0000"/>
<rect x="208.60" y="600.34" width="4.8" height="4.8" fill="#ff0000"/>
<rect x="216.59" y="601.65" width="4.8" height="4.8" fill="#ff0000"/>
<rect x="224.58" y="602.59" width="4.8" height="4.8" fill="#ff0000"/>
<rect x="232.57" y="601.65" width="4.8" height="4.8" fill="#ff0000"/>
<rect x="240.56" y="604.19" width="4.8" height="4.8" fill="#ff0000"/>
<rect x="248.55" y="604.75" width="4.8" height="4.8" fill="#ff0000"/>
<rect x="256.54" y="602.87" width="4.8" height="4.8" fill="#ff0000"/>
<rect x="264.53" y="605.60" width="4.8" height="4.8" fill="#ff0000"/>
<rect x="272.52" y="605.60" width="4.8" height="4.8" fill="#ff0000"/>
<rect x="280.51" y="606.07" width="4.8" height="4.8" fill="#ff0000"/>
<rect x="288.50" y="606.82" width="4.8" height="4.8" fill="#ff0000"/>
<rect x="296.49" y="608.60" width="4.8" height="4.8" fill="#ff0000"/>
<rect x="304.48" y="608.60" width="4.8" height="4.8" fill="#ff0000"/>
<rect x="312.47" y="608.04" width="4.8" height="4.8" fill="#ff0000"/>
<rect x="320.46" y="609.36" width="4.8" height="4.8" fill="#ff0000"/>
<rect x="328.45" y="608.89" width="4.8" height="4.8" fill="#ff0000"/>
<circle cx="59.19" cy="532.38" r="2.35" fill="#000"/>
<circle cx="67.18" cy="528.35" r="2.35" fill="#000"/>
<circle cx="75.17" cy="525.25" r="2.35" fill="#000"/>
<circle cx="83.16" cy="527.41" r="2.35" fill="#000"/>
<circle cx="91.15" cy="535.30" r="2.35" fill="#000"/>
<circle cx="99.14" cy="542.34" r="2.35" fill="#000"/>
<circle cx="107.13" cy="544.50" r="2.35" fill="#000"/>
<circle cx="115.12" cy="546.29" r="2.35" fill="#000"/>
<circle cx="123.11" cy="558.03" r="2.35" fill="#000"/>
<circle cx="131.10" cy="563.38" r="2.35" fill="#000"/>
<circle cx="139.09" cy="577.28" r="2.35" fill="#000"/>
<circle cx="147.08" cy="585.64" r="2.35" fill="#000"/>
<circle cx="155.07" cy="590.34" r="2.35" fill="#000"/>
<circle cx="163.06" cy="591.37" r="2.35" fill="#000"/>
<circle cx="171.05" cy="596.63" r="2.35" fill="#000"/>
<circle cx="179.04" cy="599.54" r="2.35" fill="#000"/>
<circle cx="187.03" cy="600.01" r="2.35" fill="#000"/>
<circle cx="195.02" cy="600.30" r="2.35" fill="#000"/>
<circle cx="203.01" cy="600.30" r="2.35" fill="#000"/>
<circle cx="211.00" cy="604.05" r="2.35" fill="#000"/>
<circle cx="218.99" cy="604.52" r="2.35" fill="#000"/>
<circle cx="226.98" cy="603.21" r="2.35" fill="#000"/>
<circle cx="234.97" cy="600.01" r="2.35" fill="#000"/>
<circle cx="242.96" cy="600.01" r="2.35" fill="#000"/>
<circle cx="250.95" cy="600.01" r="2.35" fill="#000"/>
<circle cx="258.94" cy="600.58" r="2.35" fill="#000"/>
<circle cx="266.93" cy="599.36" r="2.35" fill="#000"/>
<circle cx="274.92" cy="599.64" r="2.35" fill="#000"/>
<circle cx="282.91" cy="600.58" r="2.35" fill="#000"/>
<circle cx="290.90" cy="602.64" r="2.35" fill="#000"/>
<circle cx="298.89" cy="601.24" r="2.35" fill="#000"/>
<circle cx="306.88" cy="603.30" r="2.35" fill="#000"/>
<circle cx="314.87" cy="604.43" r="2.35" fill="#000"/>
<circle cx="322.86" cy="604.99" r="2.35" fill="#000"/>
<circle cx="330.85" cy="604.99" r="2.35" fill="#000"/>
<circle cx="297.20" cy="484.40" r="3.3" fill="#000"/>
<text transform="translate(308.70,487.30) scale(1,1.32)" font-size="9.3" text-anchor="start" font-weight="normal" fill="#1a1a1a" color="#1a1a1a" font-family='"Liberation Sans", sans-serif'>PBS</text>
<rect x="293.95" y="500.05" width="6.5" height="6.5" fill="#ff0000"/>
<text transform="translate(310.60,506.80) scale(1,1.32)" font-size="9.3" text-anchor="start" font-weight="normal" fill="#1a1a1a" color="#1a1a1a" font-family='"Liberation Sans", sans-serif'>IS</text>
<line x1="432.30" y1="451.00" x2="432.30" y2="655.80" stroke="#1a1a1a" stroke-width="1.1"/>
<line x1="424.00" y1="655.30" x2="432.80" y2="655.30" stroke="#1a1a1a" stroke-width="1.1"/>
<text transform="translate(422.00,659.40) scale(1,1.05)" font-size="11.3" text-anchor="end" font-weight="normal" fill="#1a1a1a" color="#1a1a1a" font-family='"Liberation Sans", sans-serif'>0</text>
<line x1="424.00" y1="614.54" x2="432.80" y2="614.54" stroke="#1a1a1a" stroke-width="1.1"/>
<text transform="translate(422.00,618.64) scale(1,1.05)" font-size="11.3" text-anchor="end" font-weight="normal" fill="#1a1a1a" color="#1a1a1a" font-family='"Liberation Sans", sans-serif'>20</text>
<line x1="424.00" y1="573.78" x2="432.80" y2="573.78" stroke="#1a1a1a" stroke-width="1.1"/>
<text transform="translate(422.00,577.88) scale(1,1.05)" font-size="11.3" text-anchor="end" font-weight="normal" fill="#1a1a1a" color="#1a1a1a" font-family='"Liberation Sans", sans-serif'>40</text>
<line x1="424.00" y1="533.02" x2="432.80" y2="533.02" stroke="#1a1a1a" stroke-width="1.1"/>
<text transform="translate(422.00,537.12) scale(1,1.05)" font-size="11.3" text-anchor="end" font-weight="normal" fill="#1a1a1a" color="#1a1a1a" font-family='"Liberation Sans", sans-serif'>60</text>
<line x1="424.00" y1="492.26" x2="432.80" y2="492.26" stroke="#1a1a1a" stroke-width="1.1"/>
<text transform="translate(422.00,496.36) scale(1,1.05)" font-size="11.3" text-anchor="end" font-weight="normal" fill="#1a1a1a" color="#1a1a1a" font-family='"Liberation Sans", sans-serif'>80</text>
<line x1="424.00" y1="451.50" x2="432.80" y2="451.50" stroke="#1a1a1a" stroke-width="1.1"/>
<text transform="translate(422.00,455.60) scale(1,1.05)" font-size="11.3" text-anchor="end" font-weight="normal" fill="#1a1a1a" color="#1a1a1a" font-family='"Liberation Sans", sans-serif'>100</text>
<line x1="431.80" y1="655.30" x2="637.30" y2="655.30" stroke="#1a1a1a" stroke-width="1.1"/>
<line x1="479.80" y1="655.30" x2="479.80" y2="662.70" stroke="#1a1a1a" stroke-width="1.1"/>
<text x="479.80" y="676.60" font-size="11" text-anchor="middle" font-weight="normal" fill="#1a1a1a" color="#1a1a1a" font-family='"Liberation Sans", sans-serif' >GluN2A</text>
<line x1="588.50" y1="655.30" x2="588.50" y2="662.70" stroke="#1a1a1a" stroke-width="1.1"/>
<text x="588.50" y="676.60" font-size="11" text-anchor="middle" font-weight="normal" fill="#1a1a1a" color="#1a1a1a" font-family='"Liberation Sans", sans-serif' >GluN2B</text>
<text x="0.00" y="0.00" font-size="11" text-anchor="middle" font-weight="normal" fill="#1a1a1a" color="#1a1a1a" font-family='"Liberation Sans", sans-serif' transform="translate(404.7,553.8) rotate(-90) scale(1,1.0)">Percentage in NMDA currents (%)</text>
<path d="M447.10,655.3 V514.00 H472.30 V655.3" fill="#fff" stroke="#000" stroke-width="2.0" stroke-linejoin="miter"/>
<path d="M488.00,655.3 V535.00 H513.20 V655.3" fill="#fff" stroke="#ff0000" stroke-width="2.0" stroke-linejoin="miter"/>
<path d="M555.90,655.3 V634.00 H581.10 V655.3" fill="#fff" stroke="#000" stroke-width="2.0" stroke-linejoin="miter"/>
<path d="M597.10,655.3 V604.80 H622.00 V655.3" fill="#fff" stroke="#ff0000" stroke-width="2.0" stroke-linejoin="miter"/>
<circle cx="453.70" cy="493.50" r="3.0" fill="#000"/>
<circle cx="465.50" cy="493.50" r="3.0" fill="#000"/>
<circle cx="459.60" cy="502.90" r="3.0" fill="#000"/>
<circle cx="459.60" cy="523.10" r="3.0" fill="#000"/>
<circle cx="459.60" cy="548.30" r="3.0" fill="#000"/>
<circle cx="459.60" cy="514.00" r="3.0" fill="#000"/>
<line x1="459.60" y1="504.10" x2="459.60" y2="521.50" stroke="#000" stroke-width="1.3"/>
<line x1="453.10" y1="504.10" x2="466.10" y2="504.10" stroke="#000" stroke-width="1.3"/>
<line x1="453.10" y1="521.50" x2="466.10" y2="521.50" stroke="#000" stroke-width="1.3"/>
<rect x="497.20" y="471.90" width="6.4" height="6.4" fill="#ff0000"/>
<rect x="491.10" y="501.80" width="6.4" height="6.4" fill="#ff0000"/>
<rect x="503.50" y="498.50" width="6.4" height="6.4" fill="#ff0000"/>
<rect x="491.10" y="527.60" width="6.4" height="6.4" fill="#ff0000"/>
<rect x="503.40" y="527.60" width="6.4" height="6.4" fill="#ff0000"/>
<rect x="497.20" y="543.00" width="6.4" height="6.4" fill="#ff0000"/>
<rect x="497.20" y="556.10" width="6.4" height="6.4" fill="#ff0000"/>
<rect x="497.20" y="569.80" width="6.4" height="6.4" fill="#ff0000"/>
<rect x="497.20" y="580.00" width="6.4" height="6.4" fill="#ff0000"/>
<line x1="500.40" y1="522.00" x2="500.40" y2="545.70" stroke="#ff0000" stroke-width="1.3"/>
<line x1="493.80" y1="522.00" x2="507.00" y2="522.00" stroke="#ff0000" stroke-width="1.3"/>
<line x1="493.80" y1="545.70" x2="507.00" y2="545.70" stroke="#ff0000" stroke-width="1.3"/>
<circle cx="568.50" cy="624.20" r="3.0" fill="#000"/>
<circle cx="579.20" cy="622.40" r="3.0" fill="#000"/>
<circle cx="558.20" cy="640.50" r="3.0" fill="#000"/>
<circle cx="568.50" cy="638.80" r="3.0" fill="#000"/>
<circle cx="579.00" cy="640.00" r="3.0" fill="#000"/>
<circle cx="568.50" cy="632.40" r="3.0" fill="#000"/>
<line x1="568.70" y1="629.80" x2="568.70" y2="636.50" stroke="#000" stroke-width="1.3"/>
<line x1="562.30" y1="629.80" x2="575.10" y2="629.80" stroke="#000" stroke-width="1.3"/>
<line x1="562.30" y1="636.50" x2="575.10" y2="636.50" stroke="#000" stroke-width="1.3"/>
<rect x="606.40" y="541.00" width="6.4" height="6.4" fill="#ff0000"/>
<rect x="606.40" y="569.80" width="6.4" height="6.4" fill="#ff0000"/>
<rect x="606.40" y="578.90" width="6.4" height="6.4" fill="#ff0000"/>
<rect x="616.80" y="603.50" width="6.4" height="6.4" fill="#ff0000"/>
<rect x="606.40" y="607.00" width="6.4" height="6.4" fill="#ff0000"/>
<rect x="606.40" y="614.30" width="6.4" height="6.4" fill="#ff0000"/>
<rect x="595.80" y="630.90" width="6.4" height="6.4" fill="#ff0000"/>
<rect x="606.40" y="628.00" width="6.4" height="6.4" fill="#ff0000"/>
<rect x="616.30" y="629.20" width="6.4" height="6.4" fill="#ff0000"/>
<line x1="609.60" y1="593.90" x2="609.60" y2="613.70" stroke="#ff0000" stroke-width="1.3"/>
<line x1="603.10" y1="593.90" x2="616.10" y2="593.90" stroke="#ff0000" stroke-width="1.3"/>
<line x1="603.10" y1="613.70" x2="616.10" y2="613.70" stroke="#ff0000" stroke-width="1.3"/>
<line x1="568.00" y1="523.70" x2="632.40" y2="523.70" stroke="#555" stroke-width="1.3"/>
<text x="598.70" y="515.30" font-size="11" text-anchor="middle" font-weight="normal" fill="#1a1a1a" color="#1a1a1a" font-family='"Liberation Sans", sans-serif' >#</text>
<circle cx="640.40" cy="476.10" r="3.2" fill="#000"/>
<text x="657.00" y="478.00" font-size="11" text-anchor="start" font-weight="normal" fill="#1a1a1a" color="#1a1a1a" font-family='"Liberation Sans", sans-serif' >PBS</text>
<rect x="637.20" y="492.10" width="6.4" height="6.4" fill="#ff0000"/>
<text x="659.80" y="499.40" font-size="11" text-anchor="start" font-weight="normal" fill="#1a1a1a" color="#1a1a1a" font-family='"Liberation Sans", sans-serif' >IS</text>
<text x="5.00" y="708.60" font-size="10.5" text-anchor="start" font-weight="bold" fill="#1a1a1a" color="#1a1a1a" font-family='"Liberation Sans", sans-serif' >D</text>
<text x="142.80" y="741.00" font-size="11" text-anchor="middle" font-weight="normal" fill="#1a1a1a" color="#1a1a1a" font-family='"Liberation Sans", sans-serif' >PBS</text>
<text x="204.40" y="741.00" font-size="11" text-anchor="middle" font-weight="normal" fill="#1a1a1a" color="#1a1a1a" font-family='"Liberation Sans", sans-serif' >IS</text>
<text x="14.50" y="768.50" font-size="11" text-anchor="start" font-weight="normal" fill="#1a1a1a" color="#1a1a1a" font-family='"Liberation Sans", sans-serif' >GluN2B</text>
<text x="14.80" y="799.10" font-size="11.15" text-anchor="start" font-weight="normal" fill="#1a1a1a" color="#1a1a1a" font-family='"Liberation Sans", sans-serif' >p-GluN2B-S1303</text>
<text x="14.50" y="838.50" font-size="11" text-anchor="start" font-weight="normal" fill="#1a1a1a" color="#1a1a1a" font-family='"Liberation Sans", sans-serif' >β-actin</text>
<defs>
<filter id="b1" x="-30%" y="-80%" width="160%" height="260%"><feGaussianBlur stdDeviation="1.1"/></filter>
<filter id="b2" x="-30%" y="-60%" width="160%" height="220%"><feGaussianBlur stdDeviation="2.2"/></filter>
<filter id="b4" x="-30%" y="-60%" width="160%" height="220%"><feGaussianBlur stdDeviation="3.5"/></filter>
<linearGradient id="h1" x1="0" y1="0" x2="0" y2="1">
<stop offset="0" stop-color="#d6d6d6"/><stop offset="0.35" stop-color="#b4b4b4"/><stop offset="0.5" stop-color="#9a9a9a"/><stop offset="0.62" stop-color="#c8c8c8"/><stop offset="1" stop-color="#ececec"/></linearGradient>
<linearGradient id="h2" x1="0" y1="0" x2="0" y2="1">
<stop offset="0" stop-color="#d0d0d0"/><stop offset="0.4" stop-color="#a8a8a8"/><stop offset="0.55" stop-color="#8a8a8a"/><stop offset="0.7" stop-color="#c4c4c4"/><stop offset="1" stop-color="#e8e8e8"/></linearGradient>
<clipPath id="c1"><rect x="112.2" y="751.2" width="122.7" height="31.2"/></clipPath>
<clipPath id="c2"><rect x="112.6" y="788" width="122.3" height="30.5"/></clipPath>
<clipPath id="c3"><rect x="112.2" y="822.1" width="122.7" height="30.3"/></clipPath>
</defs>
<rect x="112.2" y="822.1" width="122.7" height="30.3" fill="#f0f0f0"/>
<g clip-path="url(#c3)"><g filter="url(#b2)">
<circle cx="189.0" cy="846.2" r="3.9" fill="rgb(246,246,246)"/>
<circle cx="227.9" cy="819.1" r="2.9" fill="rgb(220,220,220)"/>
<circle cx="192.4" cy="852.2" r="1.8" fill="rgb(235,235,235)"/>
<circle cx="220.9" cy="832.5" r="1.8" fill="rgb(220,220,220)"/>
<circle cx="109.7" cy="826.2" r="2.3" fill="rgb(229,229,229)"/>
<circle cx="128.7" cy="848.3" r="1.9" fill="rgb(244,244,244)"/>
<circle cx="165.8" cy="823.0" r="4.4" fill="rgb(205,205,205)"/>
<circle cx="135.2" cy="826.2" r="4.4" fill="rgb(215,215,215)"/>
<circle cx="145.6" cy="854.5" r="3.1" fill="rgb(248,248,248)"/>
<circle cx="189.3" cy="824.9" r="4.4" fill="rgb(217,217,217)"/>
<circle cx="233.7" cy="852.0" r="2.4" fill="rgb(228,228,228)"/>
<circle cx="161.9" cy="853.6" r="2.3" fill="rgb(226,226,226)"/>
<circle cx="147.2" cy="840.9" r="1.5" fill="rgb(248,248,248)"/>
<circle cx="200.0" cy="820.5" r="2.6" fill="rgb(224,224,224)"/>
<circle cx="170.5" cy="830.0" r="2.9" fill="rgb(250,250,250)"/>
<circle cx="130.9" cy="827.7" r="4.3" fill="rgb(227,227,227)"/>
<circle cx="217.8" cy="818.7" r="3.9" fill="rgb(228,228,228)"/>
<circle cx="156.9" cy="850.0" r="2.9" fill="rgb(250,250,250)"/>
<circle cx="131.5" cy="854.3" r="2.1" fill="rgb(220,220,220)"/>
<circle cx="228.9" cy="853.8" r="2.5" fill="rgb(227,227,227)"/>
<circle cx="224.1" cy="827.5" r="2.9" fill="rgb(242,242,242)"/>
<circle cx="205.3" cy="848.3" r="4.1" fill="rgb(207,207,207)"/>
<circle cx="164.3" cy="855.2" r="2.1" fill="rgb(237,237,237)"/>
<circle cx="187.4" cy="852.9" r="2.5" fill="rgb(249,249,249)"/>
<circle cx="178.9" cy="829.9" r="2.5" fill="rgb(216,216,216)"/>
<circle cx="211.8" cy="841.8" r="3.7" fill="rgb(224,224,224)"/>
<circle cx="237.6" cy="824.1" r="1.6" fill="rgb(243,243,243)"/>
<circle cx="177.4" cy="833.4" r="2.2" fill="rgb(243,243,243)"/>
<circle cx="152.7" cy="827.5" r="3.5" fill="rgb(214,214,214)"/>
<circle cx="115.2" cy="852.8" r="1.6" fill="rgb(236,236,236)"/>
<circle cx="151.4" cy="825.9" r="4.4" fill="rgb(241,241,241)"/>
<circle cx="231.5" cy="842.0" r="3.9" fill="rgb(211,211,211)"/>
<circle cx="129.9" cy="832.2" r="1.7" fill="rgb(231,231,231)"/>
<circle cx="146.3" cy="835.2" r="4.5" fill="rgb(215,215,215)"/>
<circle cx="234.9" cy="835.2" r="3.0" fill="rgb(225,225,225)"/>
<circle cx="170.3" cy="829.1" r="2.7" fill="rgb(214,214,214)"/>
<circle cx="122.6" cy="849.2" r="3.1" fill="rgb(216,216,216)"/>
<circle cx="189.5" cy="837.0" r="2.5" fill="rgb(210,210,210)"/>
<circle cx="171.9" cy="837.6" r="3.1" fill="rgb(237,237,237)"/>
<circle cx="155.0" cy="847.9" r="3.8" fill="rgb(249,249,249)"/>
<circle cx="184.4" cy="819.3" r="2.4" fill="rgb(240,240,240)"/>
<circle cx="199.6" cy="828.7" r="3.0" fill="rgb(249,249,249)"/>
<circle cx="201.1" cy="854.4" r="2.5" fill="rgb(216,216,216)"/>
<circle cx="183.5" cy="818.4" r="3.1" fill="rgb(221,221,221)"/>
<circle cx="150.4" cy="828.4" r="2.4" fill="rgb(237,237,237)"/>
<circle cx="192.2" cy="848.3" r="2.5" fill="rgb(246,246,246)"/>
<circle cx="152.9" cy="853.6" r="2.7" fill="rgb(216,216,216)"/>
<circle cx="221.1" cy="844.2" r="4.4" fill="rgb(226,226,226)"/>
<circle cx="175.4" cy="838.1" r="2.0" fill="rgb(228,228,228)"/>
<circle cx="229.9" cy="836.1" r="3.6" fill="rgb(247,247,247)"/>
<circle cx="202.9" cy="824.5" r="3.8" fill="rgb(242,242,242)"/>
<circle cx="175.1" cy="853.6" r="2.4" fill="rgb(240,240,240)"/>
<circle cx="208.7" cy="842.2" r="3.7" fill="rgb(206,206,206)"/>
<circle cx="133.4" cy="840.3" r="3.4" fill="rgb(216,216,216)"/>
<circle cx="136.5" cy="844.1" r="3.4" fill="rgb(207,207,207)"/>
<circle cx="236.2" cy="855.2" r="2.0" fill="rgb(213,213,213)"/>
<circle cx="122.4" cy="854.8" r="2.9" fill="rgb(240,240,240)"/>
<circle cx="112.6" cy="835.7" r="2.6" fill="rgb(244,244,244)"/>
<circle cx="117.4" cy="825.8" r="3.7" fill="rgb(228,228,228)"/>
<circle cx="108.1" cy="833.4" r="2.3" fill="rgb(231,231,231)"/>
<circle cx="220.6" cy="844.2" r="3.1" fill="rgb(207,207,207)"/>
<circle cx="179.5" cy="829.5" r="2.4" fill="rgb(237,237,237)"/>
<circle cx="152.1" cy="840.1" r="4.4" fill="rgb(213,213,213)"/>
<circle cx="162.5" cy="848.9" r="3.4" fill="rgb(228,228,228)"/>
<circle cx="168.8" cy="824.0" r="2.6" fill="rgb(235,235,235)"/>
<circle cx="232.4" cy="854.8" r="3.3" fill="rgb(227,227,227)"/>
<circle cx="214.8" cy="843.1" r="2.6" fill="rgb(225,225,225)"/>
<circle cx="181.6" cy="841.4" r="1.9" fill="rgb(245,245,245)"/>
<circle cx="221.9" cy="839.4" r="2.8" fill="rgb(219,219,219)"/>
<circle cx="172.1" cy="836.2" r="3.6" fill="rgb(229,229,229)"/>
<ellipse cx="140" cy="850" rx="22" ry="5" fill="#d4d4d4"/>
</g></g>
<g clip-path="url(#c1)"><g filter="url(#b2)">
<rect x="119" y="749" width="45" height="31" rx="9" fill="url(#h1)"/>
<rect x="182.5" y="749" width="43.5" height="31" rx="9" fill="url(#h1)"/>
</g><g filter="url(#b1)">
<rect x="120.5" y="763.9" width="42.5" height="5.2" rx="2" fill="#1c1c1c"/>
<rect x="184.5" y="763.4" width="40.5" height="7.6" rx="3" fill="#050505"/>
</g></g>
<g clip-path="url(#c2)"><g filter="url(#b2)">
<rect x="124" y="786" width="42.5" height="31" rx="9" fill="url(#h2)"/>
<rect x="184.5" y="786" width="41.5" height="31" rx="9" fill="url(#h2)"/>
</g><g filter="url(#b1)">
<rect x="125.5" y="803.4" width="40.5" height="5.6" rx="2" fill="#1a1a1a"/>
<rect x="186" y="801.8" width="39.5" height="9.4" rx="3" fill="#030303"/>
</g></g>
<g clip-path="url(#c3)" filter="url(#b2)"><ellipse cx="144" cy="840" rx="25" ry="8" fill="#c8c8c8"/><ellipse cx="203" cy="835" rx="24" ry="7" fill="#d0d0d0"/></g>
<g clip-path="url(#c3)" filter="url(#b1)">
<path d="M123,834.5 Q145,835.5 166.5,833.8 Q168,837 166.5,841.5 Q145,843.5 125,844 Q121,842 121.5,838 Z" fill="#060606"/>
<path d="M181,832.5 Q203,833 224.5,829.5 Q226.5,832 225,837.5 Q203,840 182,840.5 Q180,837 181,832.5 Z" fill="#060606"/>
</g>
<rect x="112.20" y="751.20" width="122.70" height="31.20" fill="none" stroke="#000" stroke-width="1.4"/>
<rect x="112.60" y="788.00" width="122.30" height="30.50" fill="none" stroke="#000" stroke-width="1.4"/>
<rect x="112.20" y="822.10" width="122.70" height="30.30" fill="none" stroke="#000" stroke-width="1.4"/>
<line x1="236.00" y1="766.70" x2="244.50" y2="766.70" stroke="#000" stroke-width="1.1"/>
<text x="245.00" y="771.10" font-size="11" text-anchor="start" font-weight="normal" fill="#1a1a1a" color="#1a1a1a" font-style="italic" font-family='"Liberation Sans", sans-serif' >166kDa</text>
<line x1="236.00" y1="804.40" x2="244.50" y2="804.40" stroke="#000" stroke-width="1.1"/>
<text x="245.00" y="808.80" font-size="11" text-anchor="start" font-weight="normal" fill="#1a1a1a" color="#1a1a1a" font-style="italic" font-family='"Liberation Sans", sans-serif' >166kDa</text>
<line x1="236.00" y1="838.00" x2="244.50" y2="838.00" stroke="#000" stroke-width="1.1"/>
<text x="245.00" y="842.40" font-size="11" text-anchor="start" font-weight="normal" fill="#1a1a1a" color="#1a1a1a" font-style="italic" font-family='"Liberation Sans", sans-serif' >42kDa</text>
<text x="350.50" y="709.60" font-size="10.5" text-anchor="start" font-weight="bold" fill="#1a1a1a" color="#1a1a1a" font-family='"Liberation Sans", sans-serif' >E</text>
<line x1="401.60" y1="732.90" x2="401.60" y2="858.90" stroke="#2a2a2a" stroke-width="1.1"/>
<line x1="397.10" y1="858.40" x2="401.90" y2="858.40" stroke="#2a2a2a" stroke-width="1.0"/>
<text transform="translate(394.80,862.00) scale(1,1.07)" font-size="10.3" text-anchor="end" font-weight="normal" fill="#1a1a1a" color="#1a1a1a" font-family='"Liberation Sans", sans-serif'>0.0</text>
<line x1="397.10" y1="833.40" x2="401.90" y2="833.40" stroke="#2a2a2a" stroke-width="1.0"/>
<text transform="translate(394.80,837.00) scale(1,1.07)" font-size="10.3" text-anchor="end" font-weight="normal" fill="#1a1a1a" color="#1a1a1a" font-family='"Liberation Sans", sans-serif'>0.5</text>
<line x1="397.10" y1="808.40" x2="401.90" y2="808.40" stroke="#2a2a2a" stroke-width="1.0"/>
<text transform="translate(394.80,812.00) scale(1,1.07)" font-size="10.3" text-anchor="end" font-weight="normal" fill="#1a1a1a" color="#1a1a1a" font-family='"Liberation Sans", sans-serif'>1.0</text>
<line x1="397.10" y1="783.40" x2="401.90" y2="783.40" stroke="#2a2a2a" stroke-width="1.0"/>
<text transform="translate(394.80,787.00) scale(1,1.07)" font-size="10.3" text-anchor="end" font-weight="normal" fill="#1a1a1a" color="#1a1a1a" font-family='"Liberation Sans", sans-serif'>1.5</text>
<line x1="397.10" y1="758.40" x2="401.90" y2="758.40" stroke="#2a2a2a" stroke-width="1.0"/>
<text transform="translate(394.80,762.00) scale(1,1.07)" font-size="10.3" text-anchor="end" font-weight="normal" fill="#1a1a1a" color="#1a1a1a" font-family='"Liberation Sans", sans-serif'>2.0</text>
<line x1="397.10" y1="733.40" x2="401.90" y2="733.40" stroke="#2a2a2a" stroke-width="1.0"/>
<text transform="translate(394.80,737.00) scale(1,1.07)" font-size="10.3" text-anchor="end" font-weight="normal" fill="#1a1a1a" color="#1a1a1a" font-family='"Liberation Sans", sans-serif'>2.5</text>
<line x1="397.10" y1="858.40" x2="485.60" y2="858.40" stroke="#888" stroke-width="1.1"/>
<line x1="425.90" y1="858.40" x2="425.90" y2="862.50" stroke="#777" stroke-width="1.0"/>
<text transform="translate(425.90,874.00) scale(1,1.05)" font-size="10.6" text-anchor="middle" font-weight="normal" fill="#1a1a1a" color="#1a1a1a" font-family='"Liberation Sans", sans-serif'>PBS</text>
<line x1="462.00" y1="858.40" x2="462.00" y2="862.50" stroke="#777" stroke-width="1.0"/>
<text transform="translate(462.00,874.00) scale(1,1.05)" font-size="10.6" text-anchor="middle" font-weight="normal" fill="#1a1a1a" color="#1a1a1a" font-family='"Liberation Sans", sans-serif'>IS</text>
<text x="0.00" y="0.00" font-size="11.5" text-anchor="middle" font-weight="normal" fill="#1a1a1a" color="#1a1a1a" font-family='"Liberation Sans", sans-serif' transform="translate(366.5,791.2) rotate(-90) scale(1,1.0)">Band intensity(/PBS)</text>
<rect x="413.8" y="808.7" width="24.1" height="49.70" fill="#9e1c30"/>
<rect x="449.9" y="772.2" width="24" height="86.20" fill="#2a84a9"/>
<line x1="425.90" y1="808.70" x2="425.90" y2="804.20" stroke="#9e1c30" stroke-width="1.5"/>
<line x1="419.90" y1="804.20" x2="431.90" y2="804.20" stroke="#9e1c30" stroke-width="1.5"/>
<line x1="462.00" y1="772.20" x2="462.00" y2="765.30" stroke="#2a84a9" stroke-width="1.5"/>
<line x1="456.20" y1="765.30" x2="467.90" y2="765.30" stroke="#2a84a9" stroke-width="1.5"/>
<circle cx="425.90" cy="795.80" r="2.1" fill="#a6a6a6"/>
<circle cx="425.90" cy="802.20" r="2.1" fill="#a6a6a6"/>
<circle cx="425.90" cy="809.00" r="2.1" fill="#a6a6a6"/>
<circle cx="425.90" cy="815.00" r="2.1" fill="#a6a6a6"/>
<circle cx="425.90" cy="820.70" r="2.1" fill="#a6a6a6"/>
<rect x="456.20" y="754.80" width="3.8" height="3.8" fill="#a6a6a6"/>
<rect x="463.40" y="758.30" width="3.8" height="3.8" fill="#a6a6a6"/>
<rect x="460.00" y="765.60" width="3.8" height="3.8" fill="#a6a6a6"/>
<rect x="456.20" y="787.90" width="3.8" height="3.8" fill="#a6a6a6"/>
<rect x="463.40" y="784.90" width="3.8" height="3.8" fill="#a6a6a6"/>
<line x1="425.90" y1="751.60" x2="462.80" y2="751.60" stroke="#999" stroke-width="1.2"/>
<text transform="translate(443.90,747.30) scale(1,1.1)" font-size="7.6" text-anchor="middle" font-weight="normal" fill="#111" color="#111" font-family='"Liberation Sans", sans-serif'>##</text>
<text x="408.40" y="738.50" font-size="8" text-anchor="start" font-weight="normal" fill="#222" color="#222" font-family='"Liberation Sans", sans-serif' >GluN2B</text>
<text x="549.10" y="709.60" font-size="10.5" text-anchor="start" font-weight="bold" fill="#1a1a1a" color="#1a1a1a" font-family='"Liberation Sans", sans-serif' >F</text>
<line x1="599.80" y1="731.90" x2="599.80" y2="858.80" stroke="#c4c4c4" stroke-width="1.6"/>
<line x1="595.30" y1="858.30" x2="600.10" y2="858.30" stroke="#2a2a2a" stroke-width="1.0"/>
<text transform="translate(593.00,861.90) scale(1,1.07)" font-size="10.3" text-anchor="end" font-weight="normal" fill="#1a1a1a" color="#1a1a1a" font-family='"Liberation Sans", sans-serif'>0.0</text>
<line x1="595.30" y1="837.32" x2="600.10" y2="837.32" stroke="#2a2a2a" stroke-width="1.0"/>
<text transform="translate(593.00,840.92) scale(1,1.07)" font-size="10.3" text-anchor="end" font-weight="normal" fill="#1a1a1a" color="#1a1a1a" font-family='"Liberation Sans", sans-serif'>0.5</text>
<line x1="595.30" y1="816.33" x2="600.10" y2="816.33" stroke="#2a2a2a" stroke-width="1.0"/>
<text transform="translate(593.00,819.93) scale(1,1.07)" font-size="10.3" text-anchor="end" font-weight="normal" fill="#1a1a1a" color="#1a1a1a" font-family='"Liberation Sans", sans-serif'>1.0</text>
<line x1="595.30" y1="795.35" x2="600.10" y2="795.35" stroke="#2a2a2a" stroke-width="1.0"/>
<text transform="translate(593.00,798.95) scale(1,1.07)" font-size="10.3" text-anchor="end" font-weight="normal" fill="#1a1a1a" color="#1a1a1a" font-family='"Liberation Sans", sans-serif'>1.5</text>
<line x1="595.30" y1="774.37" x2="600.10" y2="774.37" stroke="#2a2a2a" stroke-width="1.0"/>
<text transform="translate(593.00,777.97) scale(1,1.07)" font-size="10.3" text-anchor="end" font-weight="normal" fill="#1a1a1a" color="#1a1a1a" font-family='"Liberation Sans", sans-serif'>2.0</text>
<line x1="595.30" y1="753.38" x2="600.10" y2="753.38" stroke="#2a2a2a" stroke-width="1.0"/>
<text transform="translate(593.00,756.98) scale(1,1.07)" font-size="10.3" text-anchor="end" font-weight="normal" fill="#1a1a1a" color="#1a1a1a" font-family='"Liberation Sans", sans-serif'>2.5</text>
<line x1="595.30" y1="732.40" x2="600.10" y2="732.40" stroke="#2a2a2a" stroke-width="1.0"/>
<text transform="translate(593.00,736.00) scale(1,1.07)" font-size="10.3" text-anchor="end" font-weight="normal" fill="#1a1a1a" color="#1a1a1a" font-family='"Liberation Sans", sans-serif'>3.0</text>
<line x1="595.30" y1="858.30" x2="685.00" y2="858.30" stroke="#2a2a2a" stroke-width="1.1"/>
<line x1="624.00" y1="858.30" x2="624.00" y2="862.50" stroke="#777" stroke-width="1.0"/>
<text transform="translate(624.00,874.00) scale(1,1.05)" font-size="10.6" text-anchor="middle" font-weight="normal" fill="#1a1a1a" color="#1a1a1a" font-family='"Liberation Sans", sans-serif'>PBS</text>
<line x1="660.00" y1="858.30" x2="660.00" y2="862.50" stroke="#777" stroke-width="1.0"/>
<text transform="translate(660.00,874.00) scale(1,1.05)" font-size="10.6" text-anchor="middle" font-weight="normal" fill="#1a1a1a" color="#1a1a1a" font-family='"Liberation Sans", sans-serif'>IS</text>
<text x="0.00" y="0.00" font-size="11.5" text-anchor="middle" font-weight="normal" fill="#1a1a1a" color="#1a1a1a" font-family='"Liberation Sans", sans-serif' transform="translate(565,791.2) rotate(-90) scale(1,1.0)">Band intensity(/PBS)</text>
<rect x="612" y="817.1" width="24" height="41.20" fill="#9e1c30"/>
<rect x="648" y="785.9" width="24" height="72.40" fill="#2a84a9"/>
<line x1="624.00" y1="817.10" x2="624.00" y2="813.30" stroke="#9e1c30" stroke-width="1.5"/>
<line x1="618.30" y1="813.30" x2="629.80" y2="813.30" stroke="#9e1c30" stroke-width="1.5"/>
<line x1="660.00" y1="785.90" x2="660.00" y2="781.30" stroke="#2a84a9" stroke-width="1.5"/>
<line x1="654.30" y1="781.30" x2="665.80" y2="781.30" stroke="#2a84a9" stroke-width="1.5"/>
<circle cx="620.00" cy="809.00" r="2.1" fill="#a6a6a6"/>
<circle cx="628.10" cy="812.10" r="2.1" fill="#a6a6a6"/>
<circle cx="620.00" cy="814.20" r="2.1" fill="#a6a6a6"/>
<circle cx="624.00" cy="820.70" r="2.1" fill="#a6a6a6"/>
<circle cx="624.00" cy="826.20" r="2.1" fill="#a6a6a6"/>
<rect x="654.10" y="774.20" width="3.8" height="3.8" fill="#a6a6a6"/>
<rect x="662.20" y="774.20" width="3.8" height="3.8" fill="#a6a6a6"/>
<rect x="658.10" y="787.90" width="3.8" height="3.8" fill="#a6a6a6"/>
<rect x="654.10" y="792.60" width="3.8" height="3.8" fill="#a6a6a6"/>
<rect x="662.20" y="791.70" width="3.8" height="3.8" fill="#a6a6a6"/>
<line x1="624.30" y1="765.80" x2="661.20" y2="765.80" stroke="#999" stroke-width="1.2"/>
<text transform="translate(642.40,761.30) scale(1,1.05)" font-size="7.4" text-anchor="middle" font-weight="normal" fill="#222" color="#222" font-family='"Liberation Sans", sans-serif'>##</text>
<text x="603.30" y="737.80" font-size="8.45" text-anchor="start" font-weight="normal" fill="#222" color="#222" font-family='"Liberation Sans", sans-serif' >p-GluN2B S1303</text>
</svg></body></html>
